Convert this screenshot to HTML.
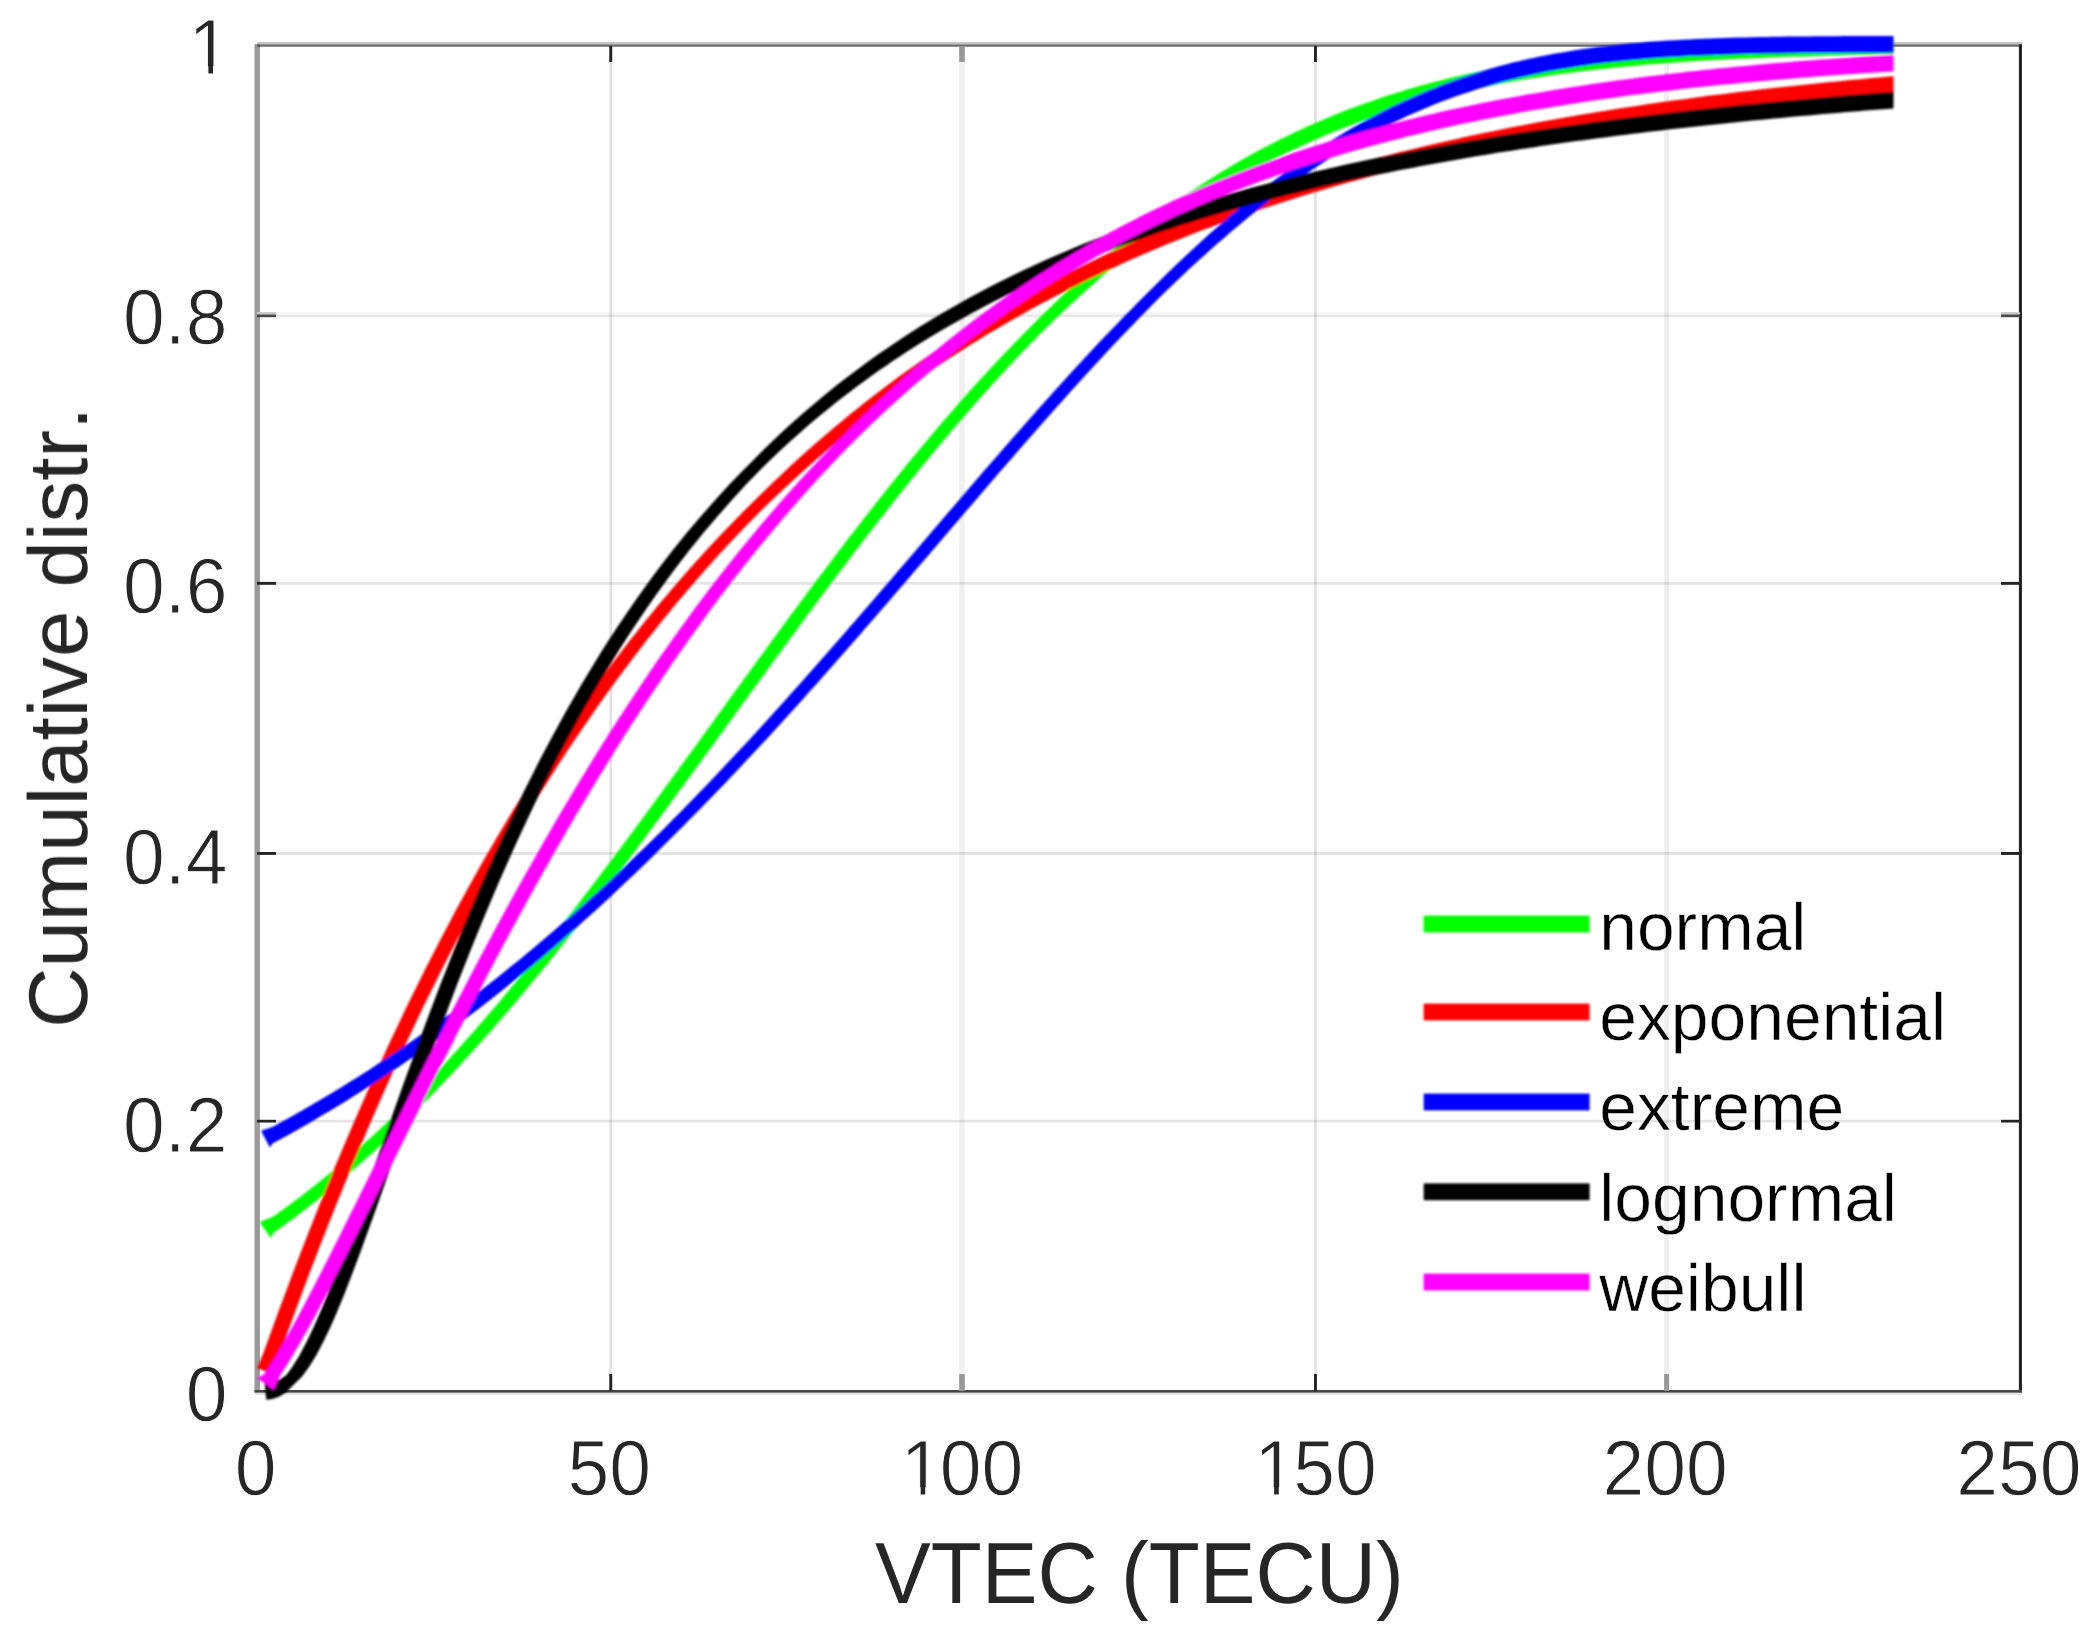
<!DOCTYPE html>
<html lang="en">
<head>
<meta charset="utf-8">
<title>Cumulative distribution of VTEC</title>
<style>
html,body{margin:0;padding:0;background:#ffffff;}
body{width:2089px;height:1646px;overflow:hidden;}
svg{display:block;}
text{font-kerning:none;white-space:pre;}
</style>
</head>
<body>
<svg width="2089" height="1646" viewBox="0 0 2089 1646" shape-rendering="geometricPrecision" text-rendering="geometricPrecision">
<rect x="0" y="0" width="2089" height="1646" fill="#ffffff"/>
<defs><filter id="b1" x="-5%" y="-5%" width="110%" height="110%"><feGaussianBlur stdDeviation="1.0"/></filter><filter id="b2" x="-5%" y="-5%" width="110%" height="110%"><feGaussianBlur stdDeviation="0.65"/></filter><filter id="b3" x="-5%" y="-5%" width="110%" height="110%"><feGaussianBlur stdDeviation="0.35"/></filter></defs>
<g filter="url(#b3)">
<rect x="609.3" y="46" width="2.9" height="1345" fill="#000" fill-opacity="0.105"/>
<rect x="959.2" y="46" width="5.6" height="1345" fill="#000" fill-opacity="0.060"/>
<rect x="1314.0" y="46" width="2.9" height="1345" fill="#000" fill-opacity="0.105"/>
<rect x="1664.1" y="46" width="5.0" height="1345" fill="#000" fill-opacity="0.065"/>
<rect x="259" y="314.5" width="1761" height="2.7" fill="#000" fill-opacity="0.090"/>
<rect x="259" y="312.1" width="1761" height="2.4" fill="#000" fill-opacity="0.035"/>
<rect x="259" y="581.9" width="1761" height="2.9" fill="#000" fill-opacity="0.100"/>
<rect x="259" y="852.0" width="1761" height="2.9" fill="#000" fill-opacity="0.110"/>
<rect x="259" y="1119.8" width="1761" height="2.7" fill="#000" fill-opacity="0.105"/>
<rect x="257" y="42.1" width="1765" height="2.3" fill="#c2c2c2"/>
<rect x="255" y="44.4" width="1767" height="2.3" fill="#6a6a6a"/>
<rect x="254.5" y="44.4" width="5.4" height="1348" fill="#999999"/>
<rect x="257.2" y="44.6" width="2.7" height="2.1" fill="#484848"/>
<rect x="2018.9" y="44.4" width="3.05" height="1348.4" fill="#222222"/>
<rect x="254.5" y="1390" width="1767.5" height="2.8" fill="#444444"/>
<rect x="254.5" y="1392.8" width="1767.5" height="2.2" fill="#e4e4e4"/>
<rect x="609.3" y="1374" width="2.9" height="17" fill="#222222"/>
<rect x="609.3" y="46" width="2.9" height="16" fill="#222222"/>
<rect x="959.2" y="1374" width="5.6" height="17" fill="#999999"/>
<rect x="959.2" y="46" width="5.6" height="16" fill="#999999"/>
<rect x="1314.0" y="1374" width="2.9" height="17" fill="#222222"/>
<rect x="1314.0" y="46" width="2.9" height="16" fill="#222222"/>
<rect x="1664.1" y="1374" width="5.0" height="17" fill="#999999"/>
<rect x="1664.1" y="46" width="5.0" height="16" fill="#999999"/>
<rect x="257" y="581.9" width="19" height="2.9" fill="#262626"/>
<rect x="2001" y="581.9" width="19" height="2.9" fill="#262626"/>
<rect x="257" y="852.0" width="19" height="2.9" fill="#262626"/>
<rect x="2001" y="852.0" width="19" height="2.9" fill="#262626"/>
<rect x="257" y="1119.8" width="19" height="2.7" fill="#262626"/>
<rect x="2001" y="1119.8" width="19" height="2.7" fill="#262626"/>
<rect x="257" y="312.1" width="19" height="2.4" fill="#c8c8c8"/>
<rect x="257" y="314.5" width="19" height="2.7" fill="#484848"/>
<rect x="2001" y="312.1" width="19" height="2.4" fill="#c8c8c8"/>
<rect x="2001" y="314.5" width="19" height="2.7" fill="#484848"/>
</g>
<g filter="url(#b1)">
<g stroke="none" fill-rule="nonzero">
<path d="M259.6,1222.0 L272.5,1217.1 L272.5,1233.8 L271.3,1238.7ZM272.5,1217.1 L279.5,1212.1 L279.5,1228.8 L272.5,1233.8ZM279.5,1212.1 L286.6,1206.9 L286.6,1223.6 L279.5,1228.8ZM286.6,1206.9 L293.6,1201.7 L293.6,1218.4 L286.6,1223.6ZM293.6,1201.7 L300.7,1196.4 L300.7,1213.1 L293.6,1218.4ZM300.7,1196.4 L307.7,1190.9 L307.7,1207.6 L300.7,1213.1ZM307.7,1190.9 L314.8,1185.4 L314.8,1202.1 L307.7,1207.6ZM314.8,1185.4 L321.8,1179.7 L321.8,1196.4 L314.8,1202.1ZM321.8,1179.7 L328.9,1174.0 L328.9,1190.7 L321.8,1196.4ZM328.9,1174.0 L335.9,1168.1 L335.9,1184.8 L328.9,1190.7ZM335.9,1168.1 L343.0,1162.2 L343.0,1178.9 L335.9,1184.8ZM343.0,1162.2 L350.0,1156.1 L350.0,1172.8 L343.0,1178.9ZM350.0,1156.1 L357.1,1149.9 L357.1,1166.6 L350.0,1172.8ZM357.1,1149.9 L364.1,1143.6 L364.1,1160.3 L357.1,1166.6ZM364.1,1143.6 L371.2,1137.2 L371.2,1153.9 L364.1,1160.3ZM371.2,1137.2 L378.2,1130.7 L378.2,1147.4 L371.2,1153.9ZM378.2,1130.7 L385.3,1124.1 L385.3,1140.8 L378.2,1147.4ZM385.3,1124.1 L392.3,1117.4 L392.3,1134.1 L385.3,1140.8ZM392.3,1117.4 L399.4,1110.6 L399.4,1127.3 L392.3,1134.1ZM399.4,1110.6 L406.4,1103.7 L406.4,1120.4 L399.4,1127.3ZM406.4,1103.7 L413.5,1096.6 L413.5,1113.3 L406.4,1120.4ZM405.1,1105.0 L412.2,1097.9 L428.9,1097.9 L421.8,1105.0ZM413.5,1096.6 L421.8,1105.0 L413.5,1113.3 L405.1,1105.0ZM412.2,1097.9 L419.2,1090.7 L435.9,1090.7 L428.9,1097.9ZM419.2,1090.7 L426.2,1083.3 L442.9,1083.3 L435.9,1090.7ZM426.2,1083.3 L433.3,1075.9 L450.0,1075.9 L442.9,1083.3ZM433.3,1075.9 L440.3,1068.4 L457.0,1068.4 L450.0,1075.9ZM440.3,1068.4 L447.4,1060.8 L464.1,1060.8 L457.0,1068.4ZM447.4,1060.8 L454.4,1053.1 L471.1,1053.1 L464.1,1060.8ZM454.4,1053.1 L461.5,1045.2 L478.2,1045.2 L471.1,1053.1ZM461.5,1045.2 L468.5,1037.3 L485.2,1037.3 L478.2,1045.2ZM468.5,1037.3 L475.6,1029.4 L492.3,1029.4 L485.2,1037.3ZM475.6,1029.4 L482.6,1021.3 L499.3,1021.3 L492.3,1029.4ZM482.6,1021.3 L489.7,1013.1 L506.4,1013.1 L499.3,1021.3ZM489.7,1013.1 L496.7,1004.9 L513.4,1004.9 L506.4,1013.1ZM496.7,1004.9 L503.8,996.5 L520.5,996.5 L513.4,1004.9ZM503.8,996.5 L510.8,988.1 L527.5,988.1 L520.5,996.5ZM510.8,988.1 L517.9,979.6 L534.6,979.6 L527.5,988.1ZM517.9,979.6 L524.9,971.0 L541.6,971.0 L534.6,979.6ZM524.9,971.0 L532.0,962.4 L548.7,962.4 L541.6,971.0ZM532.0,962.4 L539.0,953.6 L555.7,953.6 L548.7,962.4ZM539.0,953.6 L546.1,944.8 L562.8,944.8 L555.7,953.6ZM546.1,944.8 L553.1,935.9 L569.8,935.9 L562.8,944.8ZM553.1,935.9 L560.2,927.0 L576.9,927.0 L569.8,935.9ZM560.2,927.0 L567.2,918.0 L583.9,918.0 L576.9,927.0ZM567.2,918.0 L574.3,908.9 L591.0,908.9 L583.9,918.0ZM574.3,908.9 L581.3,899.8 L598.0,899.8 L591.0,908.9ZM581.3,899.8 L588.4,890.6 L605.1,890.6 L598.0,899.8ZM588.4,890.6 L595.4,881.4 L612.1,881.4 L605.1,890.6ZM595.4,881.4 L602.4,872.1 L619.1,872.1 L612.1,881.4ZM602.4,872.1 L609.5,862.8 L626.2,862.8 L619.1,872.1ZM609.5,862.8 L616.5,853.4 L633.2,853.4 L626.2,862.8ZM616.5,853.4 L623.6,843.9 L640.3,843.9 L633.2,853.4ZM623.6,843.9 L630.6,834.5 L647.3,834.5 L640.3,843.9ZM630.6,834.5 L637.7,825.0 L654.4,825.0 L647.3,834.5ZM637.7,825.0 L644.7,815.4 L661.4,815.4 L654.4,825.0ZM644.7,815.4 L651.8,805.8 L668.5,805.8 L661.4,815.4ZM651.8,805.8 L658.8,796.2 L675.5,796.2 L668.5,805.8ZM658.8,796.2 L665.9,786.6 L682.6,786.6 L675.5,796.2ZM665.9,786.6 L672.9,777.0 L689.6,777.0 L682.6,786.6ZM672.9,777.0 L680.0,767.3 L696.7,767.3 L689.6,777.0ZM680.0,767.3 L687.0,757.6 L703.7,757.6 L696.7,767.3ZM687.0,757.6 L694.1,747.9 L710.8,747.9 L703.7,757.6ZM694.1,747.9 L701.1,738.2 L717.8,738.2 L710.8,747.9ZM701.1,738.2 L708.2,728.5 L724.9,728.5 L717.8,738.2ZM708.2,728.5 L715.2,718.8 L731.9,718.8 L724.9,728.5ZM715.2,718.8 L722.3,709.1 L739.0,709.1 L731.9,718.8ZM722.3,709.1 L729.3,699.3 L746.0,699.3 L739.0,709.1ZM729.3,699.3 L736.4,689.6 L753.1,689.6 L746.0,699.3ZM736.4,689.6 L743.4,679.9 L760.1,679.9 L753.1,689.6ZM743.4,679.9 L750.5,670.2 L767.2,670.2 L760.1,679.9ZM750.5,670.2 L757.5,660.6 L774.2,660.6 L767.2,670.2ZM757.5,660.6 L764.6,650.9 L781.3,650.9 L774.2,660.6ZM764.6,650.9 L771.6,641.3 L788.3,641.3 L781.3,650.9ZM771.6,641.3 L778.6,631.7 L795.4,631.7 L788.3,641.3ZM778.6,631.7 L785.7,622.1 L802.4,622.1 L795.4,631.7ZM785.7,622.1 L792.7,612.5 L809.4,612.5 L802.4,622.1ZM792.7,612.5 L799.8,603.0 L816.5,603.0 L809.4,612.5ZM799.8,603.0 L806.8,593.6 L823.5,593.6 L816.5,603.0ZM806.8,593.6 L813.9,584.1 L830.6,584.1 L823.5,593.6ZM813.9,584.1 L820.9,574.7 L837.6,574.7 L830.6,584.1ZM820.9,574.7 L828.0,565.4 L844.7,565.4 L837.6,574.7ZM828.0,565.4 L835.0,556.1 L851.7,556.1 L844.7,565.4ZM835.0,556.1 L842.1,546.8 L858.8,546.8 L851.7,556.1ZM842.1,546.8 L849.1,537.6 L865.8,537.6 L858.8,546.8ZM849.1,537.6 L856.2,528.5 L872.9,528.5 L865.8,537.6ZM856.2,528.5 L863.2,519.4 L879.9,519.4 L872.9,528.5ZM863.2,519.4 L870.3,510.4 L887.0,510.4 L879.9,519.4ZM870.3,510.4 L877.3,501.4 L894.0,501.4 L887.0,510.4ZM877.3,501.4 L884.4,492.6 L901.1,492.6 L894.0,501.4ZM884.4,492.6 L891.4,483.7 L908.1,483.7 L901.1,492.6ZM891.4,483.7 L898.5,475.0 L915.2,475.0 L908.1,483.7ZM898.5,475.0 L905.5,466.3 L922.2,466.3 L915.2,475.0ZM905.5,466.3 L912.6,457.7 L929.3,457.7 L922.2,466.3ZM912.6,457.7 L919.6,449.2 L936.3,449.2 L929.3,457.7ZM919.6,449.2 L926.7,440.8 L943.4,440.8 L936.3,449.2ZM926.7,440.8 L933.7,432.4 L950.4,432.4 L943.4,440.8ZM933.7,432.4 L940.8,424.1 L957.5,424.1 L950.4,432.4ZM940.8,424.1 L947.8,416.0 L964.5,416.0 L957.5,424.1ZM947.8,416.0 L954.8,407.9 L971.5,407.9 L964.5,416.0ZM954.8,407.9 L961.9,399.8 L978.6,399.8 L971.5,407.9ZM961.9,399.8 L968.9,391.9 L985.6,391.9 L978.6,399.8ZM968.9,391.9 L976.0,384.1 L992.7,384.1 L985.6,391.9ZM976.0,384.1 L983.0,376.4 L999.7,376.4 L992.7,384.1ZM983.0,376.4 L990.1,368.7 L1006.8,368.7 L999.7,376.4ZM990.1,368.7 L997.1,361.2 L1013.8,361.2 L1006.8,368.7ZM997.1,361.2 L1004.2,353.7 L1020.9,353.7 L1013.8,361.2ZM1004.2,353.7 L1011.2,346.4 L1027.9,346.4 L1020.9,353.7ZM1011.2,346.4 L1018.3,339.2 L1035.0,339.2 L1027.9,346.4ZM1018.3,339.2 L1025.3,332.0 L1042.0,332.0 L1035.0,339.2ZM1033.7,323.7 L1040.7,316.6 L1040.7,333.3 L1033.7,340.4ZM1033.7,323.7 L1042.0,332.0 L1033.7,340.4 L1025.3,332.0ZM1040.7,316.6 L1047.8,309.7 L1047.8,326.4 L1040.7,333.3ZM1047.8,309.7 L1054.8,302.9 L1054.8,319.6 L1047.8,326.4ZM1054.8,302.9 L1061.9,296.1 L1061.9,312.8 L1054.8,319.6ZM1061.9,296.1 L1068.9,289.5 L1068.9,306.2 L1061.9,312.8ZM1068.9,289.5 L1076.0,283.0 L1076.0,299.7 L1068.9,306.2ZM1076.0,283.0 L1083.0,276.6 L1083.0,293.3 L1076.0,299.7ZM1083.0,276.6 L1090.1,270.2 L1090.1,286.9 L1083.0,293.3ZM1090.1,270.2 L1097.1,264.0 L1097.1,280.7 L1090.1,286.9ZM1097.1,264.0 L1104.2,257.9 L1104.2,274.6 L1097.1,280.7ZM1104.2,257.9 L1111.2,252.0 L1111.2,268.7 L1104.2,274.6ZM1111.2,252.0 L1118.3,246.1 L1118.3,262.8 L1111.2,268.7ZM1118.3,246.1 L1125.3,240.3 L1125.3,257.0 L1118.3,262.8ZM1125.3,240.3 L1132.4,234.6 L1132.4,251.3 L1125.3,257.0ZM1132.4,234.6 L1139.4,229.1 L1139.4,245.8 L1132.4,251.3ZM1139.4,229.1 L1146.4,223.6 L1146.4,240.3 L1139.4,245.8ZM1146.4,223.6 L1153.5,218.2 L1153.5,234.9 L1146.4,240.3ZM1153.5,218.2 L1160.5,213.0 L1160.5,229.7 L1153.5,234.9ZM1160.5,213.0 L1167.6,207.9 L1167.6,224.6 L1160.5,229.7ZM1167.6,207.9 L1174.6,202.8 L1174.6,219.5 L1167.6,224.6ZM1174.6,202.8 L1181.7,197.9 L1181.7,214.6 L1174.6,219.5ZM1181.7,197.9 L1188.7,193.1 L1188.7,209.8 L1181.7,214.6ZM1188.7,193.1 L1195.8,188.3 L1195.8,205.0 L1188.7,209.8ZM1195.8,188.3 L1202.8,183.7 L1202.8,200.4 L1195.8,205.0ZM1202.8,183.7 L1209.9,179.2 L1209.9,195.9 L1202.8,200.4ZM1209.9,179.2 L1216.9,174.8 L1216.9,191.5 L1209.9,195.9ZM1216.9,174.8 L1224.0,170.4 L1224.0,187.1 L1216.9,191.5ZM1224.0,170.4 L1231.0,166.2 L1231.0,182.9 L1224.0,187.1ZM1231.0,166.2 L1238.1,162.1 L1238.1,178.8 L1231.0,182.9ZM1238.1,162.1 L1245.1,158.1 L1245.1,174.8 L1238.1,178.8ZM1245.1,158.1 L1252.2,154.1 L1252.2,170.8 L1245.1,174.8ZM1252.2,154.1 L1259.2,150.3 L1259.2,167.0 L1252.2,170.8ZM1259.2,150.3 L1266.3,146.6 L1266.3,163.3 L1259.2,167.0ZM1266.3,146.6 L1273.3,142.9 L1273.3,159.6 L1266.3,163.3ZM1273.3,142.9 L1280.4,139.3 L1280.4,156.0 L1273.3,159.6ZM1280.4,139.3 L1287.4,135.9 L1287.4,152.6 L1280.4,156.0ZM1287.4,135.9 L1294.5,132.5 L1294.5,149.2 L1287.4,152.6ZM1294.5,132.5 L1301.5,129.2 L1301.5,145.9 L1294.5,149.2ZM1301.5,129.2 L1308.6,126.0 L1308.6,142.7 L1301.5,145.9ZM1308.6,126.0 L1315.6,122.9 L1315.6,139.6 L1308.6,142.7ZM1315.6,122.9 L1322.6,119.9 L1322.6,136.6 L1315.6,139.6ZM1322.6,119.9 L1329.7,116.9 L1329.7,133.6 L1322.6,136.6ZM1329.7,116.9 L1336.7,114.0 L1336.7,130.7 L1329.7,133.6ZM1336.7,114.0 L1343.8,111.3 L1343.8,128.0 L1336.7,130.7ZM1343.8,111.3 L1350.8,108.5 L1350.8,125.2 L1343.8,128.0ZM1350.8,108.5 L1357.9,105.9 L1357.9,122.6 L1350.8,125.2ZM1357.9,105.9 L1364.9,103.4 L1364.9,120.1 L1357.9,122.6ZM1364.9,103.4 L1372.0,100.9 L1372.0,117.6 L1364.9,120.1ZM1372.0,100.9 L1379.0,98.5 L1379.0,115.2 L1372.0,117.6ZM1379.0,98.5 L1386.1,96.1 L1386.1,112.8 L1379.0,115.2ZM1386.1,96.1 L1393.1,93.9 L1393.1,110.6 L1386.1,112.8ZM1393.1,93.9 L1400.2,91.7 L1400.2,108.4 L1393.1,110.6ZM1400.2,91.7 L1407.2,89.6 L1407.2,106.3 L1400.2,108.4ZM1407.2,89.6 L1414.3,87.5 L1414.3,104.2 L1407.2,106.3ZM1414.3,87.5 L1421.3,85.5 L1421.3,102.2 L1414.3,104.2ZM1421.3,85.5 L1428.4,83.6 L1428.4,100.3 L1421.3,102.2ZM1428.4,83.6 L1435.4,81.7 L1435.4,98.4 L1428.4,100.3ZM1435.4,81.7 L1442.5,79.9 L1442.5,96.6 L1435.4,98.4ZM1442.5,79.9 L1449.5,78.1 L1449.5,94.8 L1442.5,96.6ZM1449.5,78.1 L1456.6,76.4 L1456.6,93.1 L1449.5,94.8ZM1456.6,76.4 L1463.6,74.8 L1463.6,91.5 L1456.6,93.1ZM1463.6,74.8 L1470.7,73.2 L1470.7,89.9 L1463.6,91.5ZM1470.7,73.2 L1477.7,71.7 L1477.7,88.4 L1470.7,89.9ZM1477.7,71.7 L1484.8,70.2 L1484.8,86.9 L1477.7,88.4ZM1484.8,70.2 L1491.8,68.8 L1491.8,85.5 L1484.8,86.9ZM1491.8,68.8 L1498.8,67.4 L1498.8,84.1 L1491.8,85.5ZM1498.8,67.4 L1505.9,66.1 L1505.9,82.8 L1498.8,84.1ZM1505.9,66.1 L1512.9,64.8 L1512.9,81.5 L1505.9,82.8ZM1512.9,64.8 L1520.0,63.6 L1520.0,80.3 L1512.9,81.5ZM1520.0,63.6 L1527.0,62.4 L1527.0,79.1 L1520.0,80.3ZM1527.0,62.4 L1534.1,61.3 L1534.1,78.0 L1527.0,79.1ZM1534.1,61.3 L1541.1,60.2 L1541.1,76.9 L1534.1,78.0ZM1541.1,60.2 L1548.2,59.1 L1548.2,75.8 L1541.1,76.9ZM1548.2,59.1 L1555.2,58.1 L1555.2,74.8 L1548.2,75.8ZM1555.2,58.1 L1562.3,57.1 L1562.3,73.8 L1555.2,74.8ZM1562.3,57.1 L1569.3,56.2 L1569.3,72.9 L1562.3,73.8ZM1569.3,56.2 L1576.4,55.2 L1576.4,71.9 L1569.3,72.9ZM1576.4,55.2 L1583.4,54.4 L1583.4,71.1 L1576.4,71.9ZM1583.4,54.4 L1590.5,53.5 L1590.5,70.2 L1583.4,71.1ZM1590.5,53.5 L1597.5,52.7 L1597.5,69.4 L1590.5,70.2ZM1597.5,52.7 L1604.6,52.0 L1604.6,68.7 L1597.5,69.4ZM1604.6,52.0 L1611.6,51.2 L1611.6,67.9 L1604.6,68.7ZM1611.6,51.2 L1618.7,50.5 L1618.7,67.2 L1611.6,67.9ZM1618.7,50.5 L1625.7,49.8 L1625.7,66.5 L1618.7,67.2ZM1625.7,49.8 L1632.8,49.2 L1632.8,65.9 L1625.7,66.5ZM1632.8,49.2 L1639.8,48.5 L1639.8,65.2 L1632.8,65.9ZM1639.8,48.5 L1646.9,47.9 L1646.9,64.6 L1639.8,65.2ZM1646.9,47.9 L1653.9,47.3 L1653.9,64.0 L1646.9,64.6ZM1653.9,47.3 L1661.0,46.8 L1661.0,63.5 L1653.9,64.0ZM1661.0,46.8 L1668.0,46.3 L1668.0,63.0 L1661.0,63.5ZM1668.0,46.3 L1675.0,45.8 L1675.0,62.5 L1668.0,63.0ZM1675.0,45.8 L1682.1,45.3 L1682.1,62.0 L1675.0,62.5ZM1682.1,45.3 L1689.1,44.8 L1689.1,61.5 L1682.1,62.0ZM1689.1,44.8 L1696.2,44.4 L1696.2,61.1 L1689.1,61.5ZM1696.2,44.4 L1703.2,43.9 L1703.2,60.6 L1696.2,61.1ZM1703.2,43.9 L1710.3,43.5 L1710.3,60.2 L1703.2,60.6ZM1710.3,43.5 L1717.3,43.1 L1717.3,59.8 L1710.3,60.2ZM1717.3,43.1 L1724.4,42.8 L1724.4,59.5 L1717.3,59.8ZM1724.4,42.8 L1731.4,42.4 L1731.4,59.1 L1724.4,59.5ZM1731.4,42.4 L1738.5,42.1 L1738.5,58.8 L1731.4,59.1ZM1738.5,42.1 L1745.5,41.8 L1745.5,58.5 L1738.5,58.8ZM1745.5,41.8 L1752.6,41.5 L1752.6,58.2 L1745.5,58.5ZM1752.6,41.5 L1759.6,41.2 L1759.6,57.9 L1752.6,58.2ZM1759.6,41.2 L1766.7,40.9 L1766.7,57.6 L1759.6,57.9ZM1766.7,40.9 L1773.7,40.6 L1773.7,57.3 L1766.7,57.6ZM1773.7,40.6 L1780.8,40.4 L1780.8,57.1 L1773.7,57.3ZM1780.8,40.4 L1787.8,40.1 L1787.8,56.8 L1780.8,57.1ZM1787.8,40.1 L1794.9,39.9 L1794.9,56.6 L1787.8,56.8ZM1794.9,39.9 L1801.9,39.7 L1801.9,56.4 L1794.9,56.6ZM1801.9,39.7 L1809.0,39.5 L1809.0,56.2 L1801.9,56.4ZM1809.0,39.5 L1816.0,39.3 L1816.0,56.0 L1809.0,56.2ZM1816.0,39.3 L1823.1,39.1 L1823.1,55.8 L1816.0,56.0ZM1823.1,39.1 L1830.1,38.9 L1830.1,55.6 L1823.1,55.8ZM1830.1,38.9 L1837.2,38.7 L1837.2,55.4 L1830.1,55.6ZM1837.2,38.7 L1844.2,38.6 L1844.2,55.3 L1837.2,55.4ZM1844.2,38.6 L1851.2,38.4 L1851.2,55.1 L1844.2,55.3ZM1851.2,38.4 L1858.3,38.3 L1858.3,55.0 L1851.2,55.1ZM1858.3,38.3 L1865.3,38.2 L1865.3,54.9 L1858.3,55.0ZM1865.3,38.2 L1872.4,38.0 L1872.4,54.7 L1865.3,54.9ZM1872.4,38.0 L1879.4,37.9 L1879.4,54.6 L1872.4,54.7ZM1879.4,37.9 L1886.5,37.8 L1886.5,54.5 L1879.4,54.6ZM1886.5,37.8 L1893.5,37.7 L1893.5,54.4 L1886.5,54.5Z" fill="#00ff00"/>
<path d="M257.1,1368.2 L264.1,1351.3 L280.8,1351.3 L273.8,1374.1ZM264.1,1351.3 L271.2,1331.6 L287.9,1331.6 L280.8,1351.3ZM271.2,1331.6 L278.2,1312.3 L294.9,1312.3 L287.9,1331.6ZM278.2,1312.3 L285.3,1293.3 L302.0,1293.3 L294.9,1312.3ZM285.3,1293.3 L292.3,1274.5 L309.0,1274.5 L302.0,1293.3ZM292.3,1274.5 L299.4,1256.1 L316.1,1256.1 L309.0,1274.5ZM299.4,1256.1 L306.4,1237.9 L323.1,1237.9 L316.1,1256.1ZM306.4,1237.9 L313.5,1220.0 L330.2,1220.0 L323.1,1237.9ZM313.5,1220.0 L320.5,1202.3 L337.2,1202.3 L330.2,1220.0ZM320.5,1202.3 L327.6,1185.0 L344.3,1185.0 L337.2,1202.3ZM327.6,1185.0 L334.6,1167.8 L351.3,1167.8 L344.3,1185.0ZM334.6,1167.8 L341.7,1151.0 L358.4,1151.0 L351.3,1167.8ZM341.7,1151.0 L348.7,1134.4 L365.4,1134.4 L358.4,1151.0ZM348.7,1134.4 L355.8,1118.0 L372.5,1118.0 L365.4,1134.4ZM355.8,1118.0 L362.8,1101.9 L379.5,1101.9 L372.5,1118.0ZM362.8,1101.9 L369.9,1086.0 L386.6,1086.0 L379.5,1101.9ZM369.9,1086.0 L376.9,1070.4 L393.6,1070.4 L386.6,1086.0ZM376.9,1070.4 L384.0,1055.0 L400.7,1055.0 L393.6,1070.4ZM384.0,1055.0 L391.0,1039.8 L407.7,1039.8 L400.7,1055.0ZM391.0,1039.8 L398.1,1024.9 L414.8,1024.9 L407.7,1039.8ZM398.1,1024.9 L405.1,1010.1 L421.8,1010.1 L414.8,1024.9ZM405.1,1010.1 L412.2,995.6 L428.9,995.6 L421.8,1010.1ZM412.2,995.6 L419.2,981.4 L435.9,981.4 L428.9,995.6ZM419.2,981.4 L426.2,967.3 L442.9,967.3 L435.9,981.4ZM426.2,967.3 L433.3,953.4 L450.0,953.4 L442.9,967.3ZM433.3,953.4 L440.3,939.8 L457.0,939.8 L450.0,953.4ZM440.3,939.8 L447.4,926.4 L464.1,926.4 L457.0,939.8ZM447.4,926.4 L454.4,913.1 L471.1,913.1 L464.1,926.4ZM454.4,913.1 L461.5,900.1 L478.2,900.1 L471.1,913.1ZM461.5,900.1 L468.5,887.2 L485.2,887.2 L478.2,900.1ZM468.5,887.2 L475.6,874.6 L492.3,874.6 L485.2,887.2ZM475.6,874.6 L482.6,862.1 L499.3,862.1 L492.3,874.6ZM482.6,862.1 L489.7,849.8 L506.4,849.8 L499.3,862.1ZM489.7,849.8 L496.7,837.8 L513.4,837.8 L506.4,849.8ZM496.7,837.8 L503.8,825.8 L520.5,825.8 L513.4,837.8ZM503.8,825.8 L510.8,814.1 L527.5,814.1 L520.5,825.8ZM510.8,814.1 L517.9,802.6 L534.6,802.6 L527.5,814.1ZM517.9,802.6 L524.9,791.2 L541.6,791.2 L534.6,802.6ZM524.9,791.2 L532.0,780.0 L548.7,780.0 L541.6,791.2ZM532.0,780.0 L539.0,768.9 L555.7,768.9 L548.7,780.0ZM539.0,768.9 L546.1,758.0 L562.8,758.0 L555.7,768.9ZM546.1,758.0 L553.1,747.3 L569.8,747.3 L562.8,758.0ZM553.1,747.3 L560.2,736.8 L576.9,736.8 L569.8,747.3ZM560.2,736.8 L567.2,726.4 L583.9,726.4 L576.9,736.8ZM567.2,726.4 L574.3,716.2 L591.0,716.2 L583.9,726.4ZM574.3,716.2 L581.3,706.1 L598.0,706.1 L591.0,716.2ZM581.3,706.1 L588.4,696.1 L605.1,696.1 L598.0,706.1ZM588.4,696.1 L595.4,686.3 L612.1,686.3 L605.1,696.1ZM595.4,686.3 L602.4,676.7 L619.1,676.7 L612.1,686.3ZM602.4,676.7 L609.5,667.2 L626.2,667.2 L619.1,676.7ZM609.5,667.2 L616.5,657.9 L633.2,657.9 L626.2,667.2ZM616.5,657.9 L623.6,648.7 L640.3,648.7 L633.2,657.9ZM623.6,648.7 L630.6,639.6 L647.3,639.6 L640.3,648.7ZM630.6,639.6 L637.7,630.7 L654.4,630.7 L647.3,639.6ZM637.7,630.7 L644.7,621.8 L661.4,621.8 L654.4,630.7ZM644.7,621.8 L651.8,613.2 L668.5,613.2 L661.4,621.8ZM651.8,613.2 L658.8,604.6 L675.5,604.6 L668.5,613.2ZM658.8,604.6 L665.9,596.2 L682.6,596.2 L675.5,604.6ZM665.9,596.2 L672.9,587.9 L689.6,587.9 L682.6,596.2ZM672.9,587.9 L680.0,579.8 L696.7,579.8 L689.6,587.9ZM680.0,579.8 L687.0,571.7 L703.7,571.7 L696.7,579.8ZM687.0,571.7 L694.1,563.8 L710.8,563.8 L703.7,571.7ZM694.1,563.8 L701.1,556.0 L717.8,556.0 L710.8,563.8ZM701.1,556.0 L708.2,548.3 L724.9,548.3 L717.8,556.0ZM708.2,548.3 L715.2,540.8 L731.9,540.8 L724.9,548.3ZM715.2,540.8 L722.3,533.3 L739.0,533.3 L731.9,540.8ZM722.3,533.3 L729.3,526.0 L746.0,526.0 L739.0,533.3ZM729.3,526.0 L736.4,518.8 L753.1,518.8 L746.0,526.0ZM736.4,518.8 L743.4,511.6 L760.1,511.6 L753.1,518.8ZM751.8,503.3 L758.8,496.3 L758.8,513.0 L751.8,520.0ZM751.8,503.3 L760.1,511.6 L751.8,520.0 L743.4,511.6ZM758.8,496.3 L765.9,489.4 L765.9,506.1 L758.8,513.0ZM765.9,489.4 L772.9,482.6 L772.9,499.3 L765.9,506.1ZM772.9,482.6 L780.0,475.9 L780.0,492.6 L772.9,499.3ZM780.0,475.9 L787.0,469.2 L787.0,485.9 L780.0,492.6ZM787.0,469.2 L794.0,462.7 L794.0,479.4 L787.0,485.9ZM794.0,462.7 L801.1,456.3 L801.1,473.0 L794.0,479.4ZM801.1,456.3 L808.1,450.0 L808.1,466.7 L801.1,473.0ZM808.1,450.0 L815.2,443.8 L815.2,460.5 L808.1,466.7ZM815.2,443.8 L822.2,437.7 L822.2,454.4 L815.2,460.5ZM822.2,437.7 L829.3,431.7 L829.3,448.4 L822.2,454.4ZM829.3,431.7 L836.3,425.7 L836.3,442.4 L829.3,448.4ZM836.3,425.7 L843.4,419.9 L843.4,436.6 L836.3,442.4ZM843.4,419.9 L850.4,414.1 L850.4,430.8 L843.4,436.6ZM850.4,414.1 L857.5,408.4 L857.5,425.1 L850.4,430.8ZM857.5,408.4 L864.5,402.8 L864.5,419.5 L857.5,425.1ZM864.5,402.8 L871.6,397.3 L871.6,414.0 L864.5,419.5ZM871.6,397.3 L878.6,391.9 L878.6,408.6 L871.6,414.0ZM878.6,391.9 L885.7,386.6 L885.7,403.3 L878.6,408.6ZM885.7,386.6 L892.7,381.3 L892.7,398.0 L885.7,403.3ZM892.7,381.3 L899.8,376.1 L899.8,392.8 L892.7,398.0ZM899.8,376.1 L906.8,371.0 L906.8,387.7 L899.8,392.8ZM906.8,371.0 L913.9,366.0 L913.9,382.7 L906.8,387.7ZM913.9,366.0 L920.9,361.0 L920.9,377.7 L913.9,382.7ZM920.9,361.0 L928.0,356.1 L928.0,372.8 L920.9,377.7ZM928.0,356.1 L935.0,351.3 L935.0,368.0 L928.0,372.8ZM935.0,351.3 L942.1,346.6 L942.1,363.3 L935.0,368.0ZM942.1,346.6 L949.1,341.9 L949.1,358.6 L942.1,363.3ZM949.1,341.9 L956.2,337.3 L956.2,354.0 L949.1,358.6ZM956.2,337.3 L963.2,332.8 L963.2,349.5 L956.2,354.0ZM963.2,332.8 L970.2,328.4 L970.2,345.1 L963.2,349.5ZM970.2,328.4 L977.3,324.0 L977.3,340.7 L970.2,345.1ZM977.3,324.0 L984.3,319.6 L984.3,336.3 L977.3,340.7ZM984.3,319.6 L991.4,315.4 L991.4,332.1 L984.3,336.3ZM991.4,315.4 L998.4,311.2 L998.4,327.9 L991.4,332.1ZM998.4,311.2 L1005.5,307.1 L1005.5,323.8 L998.4,327.9ZM1005.5,307.1 L1012.5,303.0 L1012.5,319.7 L1005.5,323.8ZM1012.5,303.0 L1019.6,299.0 L1019.6,315.7 L1012.5,319.7ZM1019.6,299.0 L1026.6,295.0 L1026.6,311.7 L1019.6,315.7ZM1026.6,295.0 L1033.7,291.1 L1033.7,307.8 L1026.6,311.7ZM1033.7,291.1 L1040.7,287.3 L1040.7,304.0 L1033.7,307.8ZM1040.7,287.3 L1047.8,283.5 L1047.8,300.2 L1040.7,304.0ZM1047.8,283.5 L1054.8,279.8 L1054.8,296.5 L1047.8,300.2ZM1054.8,279.8 L1061.9,276.2 L1061.9,292.9 L1054.8,296.5ZM1061.9,276.2 L1068.9,272.5 L1068.9,289.2 L1061.9,292.9ZM1068.9,272.5 L1076.0,269.0 L1076.0,285.7 L1068.9,289.2ZM1076.0,269.0 L1083.0,265.5 L1083.0,282.2 L1076.0,285.7ZM1083.0,265.5 L1090.1,262.0 L1090.1,278.7 L1083.0,282.2ZM1090.1,262.0 L1097.1,258.7 L1097.1,275.4 L1090.1,278.7ZM1097.1,258.7 L1104.2,255.3 L1104.2,272.0 L1097.1,275.4ZM1104.2,255.3 L1111.2,252.0 L1111.2,268.7 L1104.2,272.0ZM1111.2,252.0 L1118.3,248.8 L1118.3,265.5 L1111.2,268.7ZM1118.3,248.8 L1125.3,245.6 L1125.3,262.3 L1118.3,265.5ZM1125.3,245.6 L1132.4,242.4 L1132.4,259.1 L1125.3,262.3ZM1132.4,242.4 L1139.4,239.3 L1139.4,256.0 L1132.4,259.1ZM1139.4,239.3 L1146.4,236.3 L1146.4,253.0 L1139.4,256.0ZM1146.4,236.3 L1153.5,233.3 L1153.5,250.0 L1146.4,253.0ZM1153.5,233.3 L1160.5,230.3 L1160.5,247.0 L1153.5,250.0ZM1160.5,230.3 L1167.6,227.4 L1167.6,244.1 L1160.5,247.0ZM1167.6,227.4 L1174.6,224.5 L1174.6,241.2 L1167.6,244.1ZM1174.6,224.5 L1181.7,221.7 L1181.7,238.4 L1174.6,241.2ZM1181.7,221.7 L1188.7,218.9 L1188.7,235.6 L1181.7,238.4ZM1188.7,218.9 L1195.8,216.1 L1195.8,232.8 L1188.7,235.6ZM1195.8,216.1 L1202.8,213.4 L1202.8,230.1 L1195.8,232.8ZM1202.8,213.4 L1209.9,210.8 L1209.9,227.5 L1202.8,230.1ZM1209.9,210.8 L1216.9,208.1 L1216.9,224.8 L1209.9,227.5ZM1216.9,208.1 L1224.0,205.6 L1224.0,222.3 L1216.9,224.8ZM1224.0,205.6 L1231.0,203.0 L1231.0,219.7 L1224.0,222.3ZM1231.0,203.0 L1238.1,200.5 L1238.1,217.2 L1231.0,219.7ZM1238.1,200.5 L1245.1,198.0 L1245.1,214.7 L1238.1,217.2ZM1245.1,198.0 L1252.2,195.6 L1252.2,212.3 L1245.1,214.7ZM1252.2,195.6 L1259.2,193.2 L1259.2,209.9 L1252.2,212.3ZM1259.2,193.2 L1266.3,190.8 L1266.3,207.5 L1259.2,209.9ZM1266.3,190.8 L1273.3,188.5 L1273.3,205.2 L1266.3,207.5ZM1273.3,188.5 L1280.4,186.2 L1280.4,202.9 L1273.3,205.2ZM1280.4,186.2 L1287.4,184.0 L1287.4,200.7 L1280.4,202.9ZM1287.4,184.0 L1294.5,181.7 L1294.5,198.4 L1287.4,200.7ZM1294.5,181.7 L1301.5,179.6 L1301.5,196.3 L1294.5,198.4ZM1301.5,179.6 L1308.6,177.4 L1308.6,194.1 L1301.5,196.3ZM1308.6,177.4 L1315.6,175.3 L1315.6,192.0 L1308.6,194.1ZM1315.6,175.3 L1322.6,173.2 L1322.6,189.9 L1315.6,192.0ZM1322.6,173.2 L1329.7,171.1 L1329.7,187.8 L1322.6,189.9ZM1329.7,171.1 L1336.7,169.1 L1336.7,185.8 L1329.7,187.8ZM1336.7,169.1 L1343.8,167.1 L1343.8,183.8 L1336.7,185.8ZM1343.8,167.1 L1350.8,165.1 L1350.8,181.8 L1343.8,183.8ZM1350.8,165.1 L1357.9,163.2 L1357.9,179.9 L1350.8,181.8ZM1357.9,163.2 L1364.9,161.3 L1364.9,178.0 L1357.9,179.9ZM1364.9,161.3 L1372.0,159.4 L1372.0,176.1 L1364.9,178.0ZM1372.0,159.4 L1379.0,157.5 L1379.0,174.2 L1372.0,176.1ZM1379.0,157.5 L1386.1,155.7 L1386.1,172.4 L1379.0,174.2ZM1386.1,155.7 L1393.1,153.9 L1393.1,170.6 L1386.1,172.4ZM1393.1,153.9 L1400.2,152.1 L1400.2,168.8 L1393.1,170.6ZM1400.2,152.1 L1407.2,150.4 L1407.2,167.1 L1400.2,168.8ZM1407.2,150.4 L1414.3,148.7 L1414.3,165.4 L1407.2,167.1ZM1414.3,148.7 L1421.3,147.0 L1421.3,163.7 L1414.3,165.4ZM1421.3,147.0 L1428.4,145.3 L1428.4,162.0 L1421.3,163.7ZM1428.4,145.3 L1435.4,143.7 L1435.4,160.4 L1428.4,162.0ZM1435.4,143.7 L1442.5,142.1 L1442.5,158.8 L1435.4,160.4ZM1442.5,142.1 L1449.5,140.5 L1449.5,157.2 L1442.5,158.8ZM1449.5,140.5 L1456.6,138.9 L1456.6,155.6 L1449.5,157.2ZM1456.6,138.9 L1463.6,137.3 L1463.6,154.0 L1456.6,155.6ZM1463.6,137.3 L1470.7,135.8 L1470.7,152.5 L1463.6,154.0ZM1470.7,135.8 L1477.7,134.3 L1477.7,151.0 L1470.7,152.5ZM1477.7,134.3 L1484.8,132.8 L1484.8,149.5 L1477.7,151.0ZM1484.8,132.8 L1491.8,131.4 L1491.8,148.1 L1484.8,149.5ZM1491.8,131.4 L1498.8,130.0 L1498.8,146.7 L1491.8,148.1ZM1498.8,130.0 L1505.9,128.5 L1505.9,145.2 L1498.8,146.7ZM1505.9,128.5 L1512.9,127.1 L1512.9,143.8 L1505.9,145.2ZM1512.9,127.1 L1520.0,125.8 L1520.0,142.5 L1512.9,143.8ZM1520.0,125.8 L1527.0,124.4 L1527.0,141.1 L1520.0,142.5ZM1527.0,124.4 L1534.1,123.1 L1534.1,139.8 L1527.0,141.1ZM1534.1,123.1 L1541.1,121.8 L1541.1,138.5 L1534.1,139.8ZM1541.1,121.8 L1548.2,120.5 L1548.2,137.2 L1541.1,138.5ZM1548.2,120.5 L1555.2,119.2 L1555.2,135.9 L1548.2,137.2ZM1555.2,119.2 L1562.3,118.0 L1562.3,134.7 L1555.2,135.9ZM1562.3,118.0 L1569.3,116.7 L1569.3,133.4 L1562.3,134.7ZM1569.3,116.7 L1576.4,115.5 L1576.4,132.2 L1569.3,133.4ZM1576.4,115.5 L1583.4,114.3 L1583.4,131.0 L1576.4,132.2ZM1583.4,114.3 L1590.5,113.2 L1590.5,129.9 L1583.4,131.0ZM1590.5,113.2 L1597.5,112.0 L1597.5,128.7 L1590.5,129.9ZM1597.5,112.0 L1604.6,110.9 L1604.6,127.6 L1597.5,128.7ZM1604.6,110.9 L1611.6,109.7 L1611.6,126.4 L1604.6,127.6ZM1611.6,109.7 L1618.7,108.6 L1618.7,125.3 L1611.6,126.4ZM1618.7,108.6 L1625.7,107.5 L1625.7,124.2 L1618.7,125.3ZM1625.7,107.5 L1632.8,106.5 L1632.8,123.2 L1625.7,124.2ZM1632.8,106.5 L1639.8,105.4 L1639.8,122.1 L1632.8,123.2ZM1639.8,105.4 L1646.9,104.3 L1646.9,121.0 L1639.8,122.1ZM1646.9,104.3 L1653.9,103.3 L1653.9,120.0 L1646.9,121.0ZM1653.9,103.3 L1661.0,102.3 L1661.0,119.0 L1653.9,120.0ZM1661.0,102.3 L1668.0,101.3 L1668.0,118.0 L1661.0,119.0ZM1668.0,101.3 L1675.0,100.3 L1675.0,117.0 L1668.0,118.0ZM1675.0,100.3 L1682.1,99.4 L1682.1,116.1 L1675.0,117.0ZM1682.1,99.4 L1689.1,98.4 L1689.1,115.1 L1682.1,116.1ZM1689.1,98.4 L1696.2,97.5 L1696.2,114.2 L1689.1,115.1ZM1696.2,97.5 L1703.2,96.5 L1703.2,113.2 L1696.2,114.2ZM1703.2,96.5 L1710.3,95.6 L1710.3,112.3 L1703.2,113.2ZM1710.3,95.6 L1717.3,94.7 L1717.3,111.4 L1710.3,112.3ZM1717.3,94.7 L1724.4,93.9 L1724.4,110.6 L1717.3,111.4ZM1724.4,93.9 L1731.4,93.0 L1731.4,109.7 L1724.4,110.6ZM1731.4,93.0 L1738.5,92.1 L1738.5,108.8 L1731.4,109.7ZM1738.5,92.1 L1745.5,91.3 L1745.5,108.0 L1738.5,108.8ZM1745.5,91.3 L1752.6,90.4 L1752.6,107.1 L1745.5,108.0ZM1752.6,90.4 L1759.6,89.6 L1759.6,106.3 L1752.6,107.1ZM1759.6,89.6 L1766.7,88.8 L1766.7,105.5 L1759.6,106.3ZM1766.7,88.8 L1773.7,88.0 L1773.7,104.7 L1766.7,105.5ZM1773.7,88.0 L1780.8,87.2 L1780.8,103.9 L1773.7,104.7ZM1780.8,87.2 L1787.8,86.5 L1787.8,103.2 L1780.8,103.9ZM1787.8,86.5 L1794.9,85.7 L1794.9,102.4 L1787.8,103.2ZM1794.9,85.7 L1801.9,85.0 L1801.9,101.7 L1794.9,102.4ZM1801.9,85.0 L1809.0,84.2 L1809.0,100.9 L1801.9,101.7ZM1809.0,84.2 L1816.0,83.5 L1816.0,100.2 L1809.0,100.9ZM1816.0,83.5 L1823.1,82.8 L1823.1,99.5 L1816.0,100.2ZM1823.1,82.8 L1830.1,82.1 L1830.1,98.8 L1823.1,99.5ZM1830.1,82.1 L1837.2,81.4 L1837.2,98.1 L1830.1,98.8ZM1837.2,81.4 L1844.2,80.7 L1844.2,97.4 L1837.2,98.1ZM1844.2,80.7 L1851.2,80.0 L1851.2,96.7 L1844.2,97.4ZM1851.2,80.0 L1858.3,79.4 L1858.3,96.1 L1851.2,96.7ZM1858.3,79.4 L1865.3,78.7 L1865.3,95.4 L1858.3,96.1ZM1865.3,78.7 L1872.4,78.1 L1872.4,94.8 L1865.3,95.4ZM1872.4,78.1 L1879.4,77.4 L1879.4,94.1 L1872.4,94.8ZM1879.4,77.4 L1886.5,76.8 L1886.5,93.5 L1879.4,94.1ZM1886.5,76.8 L1893.5,76.2 L1893.5,92.9 L1886.5,93.5Z" fill="#ff0000"/>
<path d="M261.0,1130.7 L272.5,1126.9 L272.5,1143.6 L269.9,1147.4ZM272.5,1126.9 L279.5,1123.1 L279.5,1139.8 L272.5,1143.6ZM279.5,1123.1 L286.6,1119.2 L286.6,1135.9 L279.5,1139.8ZM286.6,1119.2 L293.6,1115.2 L293.6,1131.9 L286.6,1135.9ZM293.6,1115.2 L300.7,1111.2 L300.7,1127.9 L293.6,1131.9ZM300.7,1111.2 L307.7,1107.2 L307.7,1123.9 L300.7,1127.9ZM307.7,1107.2 L314.8,1103.1 L314.8,1119.8 L307.7,1123.9ZM314.8,1103.1 L321.8,1098.9 L321.8,1115.6 L314.8,1119.8ZM321.8,1098.9 L328.9,1094.7 L328.9,1111.4 L321.8,1115.6ZM328.9,1094.7 L335.9,1090.5 L335.9,1107.2 L328.9,1111.4ZM335.9,1090.5 L343.0,1086.2 L343.0,1102.9 L335.9,1107.2ZM343.0,1086.2 L350.0,1081.8 L350.0,1098.5 L343.0,1102.9ZM350.0,1081.8 L357.1,1077.4 L357.1,1094.1 L350.0,1098.5ZM357.1,1077.4 L364.1,1072.9 L364.1,1089.6 L357.1,1094.1ZM364.1,1072.9 L371.2,1068.4 L371.2,1085.1 L364.1,1089.6ZM371.2,1068.4 L378.2,1063.8 L378.2,1080.5 L371.2,1085.1ZM378.2,1063.8 L385.3,1059.1 L385.3,1075.8 L378.2,1080.5ZM385.3,1059.1 L392.3,1054.4 L392.3,1071.1 L385.3,1075.8ZM392.3,1054.4 L399.4,1049.7 L399.4,1066.4 L392.3,1071.1ZM399.4,1049.7 L406.4,1044.8 L406.4,1061.5 L399.4,1066.4ZM406.4,1044.8 L413.5,1040.0 L413.5,1056.7 L406.4,1061.5ZM413.5,1040.0 L420.5,1035.0 L420.5,1051.7 L413.5,1056.7ZM420.5,1035.0 L427.6,1030.1 L427.6,1046.8 L420.5,1051.7ZM427.6,1030.1 L434.6,1025.0 L434.6,1041.7 L427.6,1046.8ZM434.6,1025.0 L441.6,1019.9 L441.6,1036.6 L434.6,1041.7ZM441.6,1019.9 L448.7,1014.8 L448.7,1031.5 L441.6,1036.6ZM448.7,1014.8 L455.7,1009.5 L455.7,1026.2 L448.7,1031.5ZM455.7,1009.5 L462.8,1004.3 L462.8,1021.0 L455.7,1026.2ZM462.8,1004.3 L469.8,998.9 L469.8,1015.6 L462.8,1021.0ZM469.8,998.9 L476.9,993.5 L476.9,1010.2 L469.8,1015.6ZM476.9,993.5 L483.9,988.1 L483.9,1004.8 L476.9,1010.2ZM483.9,988.1 L491.0,982.5 L491.0,999.2 L483.9,1004.8ZM491.0,982.5 L498.0,977.0 L498.0,993.7 L491.0,999.2ZM498.0,977.0 L505.1,971.3 L505.1,988.0 L498.0,993.7ZM505.1,971.3 L512.1,965.6 L512.1,982.3 L505.1,988.0ZM512.1,965.6 L519.2,959.9 L519.2,976.6 L512.1,982.3ZM519.2,959.9 L526.2,954.1 L526.2,970.8 L519.2,976.6ZM526.2,954.1 L533.3,948.2 L533.3,964.9 L526.2,970.8ZM533.3,948.2 L540.3,942.3 L540.3,959.0 L533.3,964.9ZM540.3,942.3 L547.4,936.3 L547.4,953.0 L540.3,959.0ZM547.4,936.3 L554.4,930.2 L554.4,946.9 L547.4,953.0ZM554.4,930.2 L561.5,924.1 L561.5,940.8 L554.4,946.9ZM561.5,924.1 L568.5,917.9 L568.5,934.6 L561.5,940.8ZM568.5,917.9 L575.6,911.7 L575.6,928.4 L568.5,934.6ZM575.6,911.7 L582.6,905.4 L582.6,922.1 L575.6,928.4ZM582.6,905.4 L589.7,899.1 L589.7,915.8 L582.6,922.1ZM589.7,899.1 L596.7,892.7 L596.7,909.4 L589.7,915.8ZM596.7,892.7 L603.8,886.2 L603.8,902.9 L596.7,909.4ZM603.8,886.2 L610.8,879.7 L610.8,896.4 L603.8,902.9ZM610.8,879.7 L617.8,873.1 L617.8,889.8 L610.8,896.4ZM617.8,873.1 L624.9,866.4 L624.9,883.1 L617.8,889.8ZM624.9,866.4 L631.9,859.7 L631.9,876.4 L624.9,883.1ZM631.9,859.7 L639.0,853.0 L639.0,869.7 L631.9,876.4ZM639.0,853.0 L646.0,846.2 L646.0,862.9 L639.0,869.7ZM646.0,846.2 L653.1,839.3 L653.1,856.0 L646.0,862.9ZM653.1,839.3 L660.1,832.4 L660.1,849.1 L653.1,856.0ZM660.1,832.4 L667.2,825.4 L667.2,842.1 L660.1,849.1ZM667.2,825.4 L674.2,818.4 L674.2,835.1 L667.2,842.1ZM665.9,826.7 L672.9,819.6 L689.6,819.6 L682.6,826.7ZM674.2,818.4 L682.6,826.7 L674.2,835.1 L665.9,826.7ZM672.9,819.6 L680.0,812.5 L696.7,812.5 L689.6,819.6ZM680.0,812.5 L687.0,805.3 L703.7,805.3 L696.7,812.5ZM687.0,805.3 L694.1,798.1 L710.8,798.1 L703.7,805.3ZM694.1,798.1 L701.1,790.8 L717.8,790.8 L710.8,798.1ZM701.1,790.8 L708.2,783.4 L724.9,783.4 L717.8,790.8ZM708.2,783.4 L715.2,776.0 L731.9,776.0 L724.9,783.4ZM715.2,776.0 L722.3,768.6 L739.0,768.6 L731.9,776.0ZM722.3,768.6 L729.3,761.1 L746.0,761.1 L739.0,768.6ZM729.3,761.1 L736.4,753.6 L753.1,753.6 L746.0,761.1ZM736.4,753.6 L743.4,746.0 L760.1,746.0 L753.1,753.6ZM743.4,746.0 L750.5,738.4 L767.2,738.4 L760.1,746.0ZM750.5,738.4 L757.5,730.7 L774.2,730.7 L767.2,738.4ZM757.5,730.7 L764.6,723.0 L781.3,723.0 L774.2,730.7ZM764.6,723.0 L771.6,715.3 L788.3,715.3 L781.3,723.0ZM771.6,715.3 L778.6,707.5 L795.4,707.5 L788.3,715.3ZM778.6,707.5 L785.7,699.7 L802.4,699.7 L795.4,707.5ZM785.7,699.7 L792.7,691.8 L809.4,691.8 L802.4,699.7ZM792.7,691.8 L799.8,683.9 L816.5,683.9 L809.4,691.8ZM799.8,683.9 L806.8,676.0 L823.5,676.0 L816.5,683.9ZM806.8,676.0 L813.9,668.0 L830.6,668.0 L823.5,676.0ZM813.9,668.0 L820.9,660.0 L837.6,660.0 L830.6,668.0ZM820.9,660.0 L828.0,652.0 L844.7,652.0 L837.6,660.0ZM828.0,652.0 L835.0,644.0 L851.7,644.0 L844.7,652.0ZM835.0,644.0 L842.1,635.9 L858.8,635.9 L851.7,644.0ZM842.1,635.9 L849.1,627.8 L865.8,627.8 L858.8,635.9ZM849.1,627.8 L856.2,619.7 L872.9,619.7 L865.8,627.8ZM856.2,619.7 L863.2,611.6 L879.9,611.6 L872.9,619.7ZM863.2,611.6 L870.3,603.4 L887.0,603.4 L879.9,611.6ZM870.3,603.4 L877.3,595.2 L894.0,595.2 L887.0,603.4ZM877.3,595.2 L884.4,587.1 L901.1,587.1 L894.0,595.2ZM884.4,587.1 L891.4,578.9 L908.1,578.9 L901.1,587.1ZM891.4,578.9 L898.5,570.6 L915.2,570.6 L908.1,578.9ZM898.5,570.6 L905.5,562.4 L922.2,562.4 L915.2,570.6ZM905.5,562.4 L912.6,554.2 L929.3,554.2 L922.2,562.4ZM912.6,554.2 L919.6,546.0 L936.3,546.0 L929.3,554.2ZM919.6,546.0 L926.7,537.8 L943.4,537.8 L936.3,546.0ZM926.7,537.8 L933.7,529.5 L950.4,529.5 L943.4,537.8ZM933.7,529.5 L940.8,521.3 L957.5,521.3 L950.4,529.5ZM940.8,521.3 L947.8,513.1 L964.5,513.1 L957.5,521.3ZM947.8,513.1 L954.8,504.9 L971.5,504.9 L964.5,513.1ZM954.8,504.9 L961.9,496.7 L978.6,496.7 L971.5,504.9ZM961.9,496.7 L968.9,488.5 L985.6,488.5 L978.6,496.7ZM968.9,488.5 L976.0,480.3 L992.7,480.3 L985.6,488.5ZM976.0,480.3 L983.0,472.1 L999.7,472.1 L992.7,480.3ZM983.0,472.1 L990.1,464.0 L1006.8,464.0 L999.7,472.1ZM990.1,464.0 L997.1,455.9 L1013.8,455.9 L1006.8,464.0ZM997.1,455.9 L1004.2,447.8 L1020.9,447.8 L1013.8,455.9ZM1004.2,447.8 L1011.2,439.7 L1027.9,439.7 L1020.9,447.8ZM1011.2,439.7 L1018.3,431.7 L1035.0,431.7 L1027.9,439.7ZM1018.3,431.7 L1025.3,423.7 L1042.0,423.7 L1035.0,431.7ZM1025.3,423.7 L1032.4,415.7 L1049.1,415.7 L1042.0,423.7ZM1032.4,415.7 L1039.4,407.8 L1056.1,407.8 L1049.1,415.7ZM1039.4,407.8 L1046.5,399.9 L1063.2,399.9 L1056.1,407.8ZM1046.5,399.9 L1053.5,392.1 L1070.2,392.1 L1063.2,399.9ZM1053.5,392.1 L1060.6,384.3 L1077.3,384.3 L1070.2,392.1ZM1060.6,384.3 L1067.6,376.5 L1084.3,376.5 L1077.3,384.3ZM1067.6,376.5 L1074.7,368.8 L1091.4,368.8 L1084.3,376.5ZM1074.7,368.8 L1081.7,361.2 L1098.4,361.2 L1091.4,368.8ZM1081.7,361.2 L1088.8,353.6 L1105.5,353.6 L1098.4,361.2ZM1088.8,353.6 L1095.8,346.1 L1112.5,346.1 L1105.5,353.6ZM1095.8,346.1 L1102.9,338.6 L1119.6,338.6 L1112.5,346.1ZM1102.9,338.6 L1109.9,331.2 L1126.6,331.2 L1119.6,338.6ZM1109.9,331.2 L1117.0,323.9 L1133.7,323.9 L1126.6,331.2ZM1117.0,323.9 L1124.0,316.6 L1140.7,316.6 L1133.7,323.9ZM1124.0,316.6 L1131.1,309.4 L1147.8,309.4 L1140.7,316.6ZM1131.1,309.4 L1138.1,302.3 L1154.8,302.3 L1147.8,309.4ZM1146.4,294.0 L1153.5,286.9 L1153.5,303.6 L1146.4,310.7ZM1146.4,294.0 L1154.8,302.3 L1146.4,310.7 L1138.1,302.3ZM1153.5,286.9 L1160.5,279.9 L1160.5,296.6 L1153.5,303.6ZM1160.5,279.9 L1167.6,273.1 L1167.6,289.8 L1160.5,296.6ZM1167.6,273.1 L1174.6,266.3 L1174.6,283.0 L1167.6,289.8ZM1174.6,266.3 L1181.7,259.6 L1181.7,276.3 L1174.6,283.0ZM1181.7,259.6 L1188.7,252.9 L1188.7,269.6 L1181.7,276.3ZM1188.7,252.9 L1195.8,246.4 L1195.8,263.1 L1188.7,269.6ZM1195.8,246.4 L1202.8,240.0 L1202.8,256.7 L1195.8,263.1ZM1202.8,240.0 L1209.9,233.6 L1209.9,250.3 L1202.8,256.7ZM1209.9,233.6 L1216.9,227.4 L1216.9,244.1 L1209.9,250.3ZM1216.9,227.4 L1224.0,221.2 L1224.0,237.9 L1216.9,244.1ZM1224.0,221.2 L1231.0,215.1 L1231.0,231.8 L1224.0,237.9ZM1231.0,215.1 L1238.1,209.2 L1238.1,225.9 L1231.0,231.8ZM1238.1,209.2 L1245.1,203.3 L1245.1,220.0 L1238.1,225.9ZM1245.1,203.3 L1252.2,197.6 L1252.2,214.3 L1245.1,220.0ZM1252.2,197.6 L1259.2,192.0 L1259.2,208.7 L1252.2,214.3ZM1259.2,192.0 L1266.3,186.4 L1266.3,203.1 L1259.2,208.7ZM1266.3,186.4 L1273.3,181.0 L1273.3,197.7 L1266.3,203.1ZM1273.3,181.0 L1280.4,175.7 L1280.4,192.4 L1273.3,197.7ZM1280.4,175.7 L1287.4,170.5 L1287.4,187.2 L1280.4,192.4ZM1287.4,170.5 L1294.5,165.4 L1294.5,182.1 L1287.4,187.2ZM1294.5,165.4 L1301.5,160.4 L1301.5,177.1 L1294.5,182.1ZM1301.5,160.4 L1308.6,155.5 L1308.6,172.2 L1301.5,177.1ZM1308.6,155.5 L1315.6,150.8 L1315.6,167.5 L1308.6,172.2ZM1315.6,150.8 L1322.6,146.2 L1322.6,162.9 L1315.6,167.5ZM1322.6,146.2 L1329.7,141.6 L1329.7,158.3 L1322.6,162.9ZM1329.7,141.6 L1336.7,137.2 L1336.7,153.9 L1329.7,158.3ZM1336.7,137.2 L1343.8,132.9 L1343.8,149.6 L1336.7,153.9ZM1343.8,132.9 L1350.8,128.7 L1350.8,145.4 L1343.8,149.6ZM1350.8,128.7 L1357.9,124.7 L1357.9,141.4 L1350.8,145.4ZM1357.9,124.7 L1364.9,120.7 L1364.9,137.4 L1357.9,141.4ZM1364.9,120.7 L1372.0,116.9 L1372.0,133.6 L1364.9,137.4ZM1372.0,116.9 L1379.0,113.2 L1379.0,129.9 L1372.0,133.6ZM1379.0,113.2 L1386.1,109.5 L1386.1,126.2 L1379.0,129.9ZM1386.1,109.5 L1393.1,106.0 L1393.1,122.7 L1386.1,126.2ZM1393.1,106.0 L1400.2,102.7 L1400.2,119.4 L1393.1,122.7ZM1400.2,102.7 L1407.2,99.4 L1407.2,116.1 L1400.2,119.4ZM1407.2,99.4 L1414.3,96.2 L1414.3,112.9 L1407.2,116.1ZM1414.3,96.2 L1421.3,93.2 L1421.3,109.9 L1414.3,112.9ZM1421.3,93.2 L1428.4,90.2 L1428.4,106.9 L1421.3,109.9ZM1428.4,90.2 L1435.4,87.4 L1435.4,104.1 L1428.4,106.9ZM1435.4,87.4 L1442.5,84.6 L1442.5,101.3 L1435.4,104.1ZM1442.5,84.6 L1449.5,82.0 L1449.5,98.7 L1442.5,101.3ZM1449.5,82.0 L1456.6,79.4 L1456.6,96.1 L1449.5,98.7ZM1456.6,79.4 L1463.6,77.0 L1463.6,93.7 L1456.6,96.1ZM1463.6,77.0 L1470.7,74.7 L1470.7,91.4 L1463.6,93.7ZM1470.7,74.7 L1477.7,72.4 L1477.7,89.1 L1470.7,91.4ZM1477.7,72.4 L1484.8,70.3 L1484.8,87.0 L1477.7,89.1ZM1484.8,70.3 L1491.8,68.2 L1491.8,84.9 L1484.8,87.0ZM1491.8,68.2 L1498.8,66.3 L1498.8,83.0 L1491.8,84.9ZM1498.8,66.3 L1505.9,64.4 L1505.9,81.1 L1498.8,83.0ZM1505.9,64.4 L1512.9,62.6 L1512.9,79.3 L1505.9,81.1ZM1512.9,62.6 L1520.0,60.9 L1520.0,77.6 L1512.9,79.3ZM1520.0,60.9 L1527.0,59.3 L1527.0,76.0 L1520.0,77.6ZM1527.0,59.3 L1534.1,57.8 L1534.1,74.5 L1527.0,76.0ZM1534.1,57.8 L1541.1,56.3 L1541.1,73.0 L1534.1,74.5ZM1541.1,56.3 L1548.2,54.9 L1548.2,71.6 L1541.1,73.0ZM1548.2,54.9 L1555.2,53.6 L1555.2,70.3 L1548.2,71.6ZM1555.2,53.6 L1562.3,52.4 L1562.3,69.1 L1555.2,70.3ZM1562.3,52.4 L1569.3,51.2 L1569.3,67.9 L1562.3,69.1ZM1569.3,51.2 L1576.4,50.1 L1576.4,66.8 L1569.3,67.9ZM1576.4,50.1 L1583.4,49.0 L1583.4,65.7 L1576.4,66.8ZM1583.4,49.0 L1590.5,48.1 L1590.5,64.8 L1583.4,65.7ZM1590.5,48.1 L1597.5,47.1 L1597.5,63.8 L1590.5,64.8ZM1597.5,47.1 L1604.6,46.3 L1604.6,63.0 L1597.5,63.8ZM1604.6,46.3 L1611.6,45.5 L1611.6,62.2 L1604.6,63.0ZM1611.6,45.5 L1618.7,44.7 L1618.7,61.4 L1611.6,62.2ZM1618.7,44.7 L1625.7,44.0 L1625.7,60.7 L1618.7,61.4ZM1625.7,44.0 L1632.8,43.3 L1632.8,60.0 L1625.7,60.7ZM1632.8,43.3 L1639.8,42.7 L1639.8,59.4 L1632.8,60.0ZM1639.8,42.7 L1646.9,42.1 L1646.9,58.8 L1639.8,59.4ZM1646.9,42.1 L1653.9,41.6 L1653.9,58.3 L1646.9,58.8ZM1653.9,41.6 L1661.0,41.1 L1661.0,57.8 L1653.9,58.3ZM1661.0,41.1 L1668.0,40.6 L1668.0,57.3 L1661.0,57.8ZM1668.0,40.6 L1675.0,40.2 L1675.0,56.9 L1668.0,57.3ZM1675.0,40.2 L1682.1,39.8 L1682.1,56.5 L1675.0,56.9ZM1682.1,39.8 L1689.1,39.4 L1689.1,56.1 L1682.1,56.5ZM1689.1,39.4 L1696.2,39.1 L1696.2,55.8 L1689.1,56.1ZM1696.2,39.1 L1703.2,38.8 L1703.2,55.5 L1696.2,55.8ZM1703.2,38.8 L1710.3,38.5 L1710.3,55.2 L1703.2,55.5ZM1710.3,38.5 L1717.3,38.2 L1717.3,54.9 L1710.3,55.2ZM1717.3,38.2 L1724.4,38.0 L1724.4,54.7 L1717.3,54.9ZM1724.4,38.0 L1731.4,37.8 L1731.4,54.5 L1724.4,54.7ZM1731.4,37.8 L1738.5,37.6 L1738.5,54.3 L1731.4,54.5ZM1738.5,37.6 L1745.5,37.4 L1745.5,54.1 L1738.5,54.3ZM1745.5,37.4 L1752.6,37.2 L1752.6,53.9 L1745.5,54.1ZM1752.6,37.2 L1759.6,37.1 L1759.6,53.8 L1752.6,53.9ZM1759.6,37.1 L1766.7,36.9 L1766.7,53.6 L1759.6,53.8ZM1766.7,36.9 L1773.7,36.8 L1773.7,53.5 L1766.7,53.6ZM1773.7,36.8 L1780.8,36.7 L1780.8,53.4 L1773.7,53.5ZM1780.8,36.7 L1787.8,36.6 L1787.8,53.3 L1780.8,53.4ZM1787.8,36.6 L1794.9,36.5 L1794.9,53.2 L1787.8,53.3ZM1794.9,36.5 L1801.9,36.4 L1801.9,53.1 L1794.9,53.2ZM1801.9,36.4 L1809.0,36.4 L1809.0,53.1 L1801.9,53.1ZM1809.0,36.4 L1816.0,36.3 L1816.0,53.0 L1809.0,53.1ZM1816.0,36.3 L1823.1,36.2 L1823.1,52.9 L1816.0,53.0ZM1823.1,36.2 L1830.1,36.2 L1830.1,52.9 L1823.1,52.9ZM1830.1,36.2 L1837.2,36.2 L1837.2,52.9 L1830.1,52.9ZM1837.2,36.2 L1844.2,36.1 L1844.2,52.8 L1837.2,52.9ZM1844.2,36.1 L1851.2,36.1 L1851.2,52.8 L1844.2,52.8ZM1851.2,36.1 L1858.3,36.0 L1858.3,52.7 L1851.2,52.8ZM1858.3,36.0 L1865.3,36.0 L1865.3,52.7 L1858.3,52.7ZM1865.3,36.0 L1872.4,36.0 L1872.4,52.7 L1865.3,52.7ZM1872.4,36.0 L1879.4,36.0 L1879.4,52.7 L1872.4,52.7ZM1879.4,36.0 L1886.5,36.0 L1886.5,52.7 L1879.4,52.7ZM1886.5,36.0 L1893.5,35.9 L1893.5,52.6 L1886.5,52.7Z" fill="#0000ff"/>
<path d="M264.6,1383.0 L272.5,1382.3 L272.5,1399.0 L266.3,1399.7ZM272.5,1382.3 L279.5,1379.8 L279.5,1396.5 L272.5,1399.0ZM279.5,1379.8 L286.6,1375.1 L286.6,1391.8 L279.5,1396.5ZM278.2,1383.5 L285.3,1376.4 L302.0,1376.4 L294.9,1383.5ZM286.6,1375.1 L294.9,1383.5 L286.6,1391.8 L278.2,1383.5ZM285.3,1376.4 L292.3,1367.0 L309.0,1367.0 L302.0,1376.4ZM292.3,1367.0 L299.4,1355.6 L316.1,1355.6 L309.0,1367.0ZM299.4,1355.6 L306.4,1342.3 L323.1,1342.3 L316.1,1355.6ZM306.4,1342.3 L313.5,1327.5 L330.2,1327.5 L323.1,1342.3ZM313.5,1327.5 L320.5,1311.4 L337.2,1311.4 L330.2,1327.5ZM320.5,1311.4 L327.6,1294.2 L344.3,1294.2 L337.2,1311.4ZM327.6,1294.2 L334.6,1276.2 L351.3,1276.2 L344.3,1294.2ZM334.6,1276.2 L341.7,1257.5 L358.4,1257.5 L351.3,1276.2ZM341.7,1257.5 L348.7,1238.3 L365.4,1238.3 L358.4,1257.5ZM348.7,1238.3 L355.8,1218.7 L372.5,1218.7 L365.4,1238.3ZM355.8,1218.7 L362.8,1198.9 L379.5,1198.9 L372.5,1218.7ZM362.8,1198.9 L369.9,1179.0 L386.6,1179.0 L379.5,1198.9ZM369.9,1179.0 L376.9,1158.9 L393.6,1158.9 L386.6,1179.0ZM376.9,1158.9 L384.0,1138.9 L400.7,1138.9 L393.6,1158.9ZM384.0,1138.9 L391.0,1119.0 L407.7,1119.0 L400.7,1138.9ZM391.0,1119.0 L398.1,1099.1 L414.8,1099.1 L407.7,1119.0ZM398.1,1099.1 L405.1,1079.5 L421.8,1079.5 L414.8,1099.1ZM405.1,1079.5 L412.2,1060.1 L428.9,1060.1 L421.8,1079.5ZM412.2,1060.1 L419.2,1040.8 L435.9,1040.8 L428.9,1060.1ZM419.2,1040.8 L426.2,1021.9 L442.9,1021.9 L435.9,1040.8ZM426.2,1021.9 L433.3,1003.2 L450.0,1003.2 L442.9,1021.9ZM433.3,1003.2 L440.3,984.8 L457.0,984.8 L450.0,1003.2ZM440.3,984.8 L447.4,966.8 L464.1,966.8 L457.0,984.8ZM447.4,966.8 L454.4,949.0 L471.1,949.0 L464.1,966.8ZM454.4,949.0 L461.5,931.6 L478.2,931.6 L471.1,949.0ZM461.5,931.6 L468.5,914.5 L485.2,914.5 L478.2,931.6ZM468.5,914.5 L475.6,897.7 L492.3,897.7 L485.2,914.5ZM475.6,897.7 L482.6,881.3 L499.3,881.3 L492.3,897.7ZM482.6,881.3 L489.7,865.2 L506.4,865.2 L499.3,881.3ZM489.7,865.2 L496.7,849.4 L513.4,849.4 L506.4,865.2ZM496.7,849.4 L503.8,834.0 L520.5,834.0 L513.4,849.4ZM503.8,834.0 L510.8,818.9 L527.5,818.9 L520.5,834.0ZM510.8,818.9 L517.9,804.1 L534.6,804.1 L527.5,818.9ZM517.9,804.1 L524.9,789.6 L541.6,789.6 L534.6,804.1ZM524.9,789.6 L532.0,775.5 L548.7,775.5 L541.6,789.6ZM532.0,775.5 L539.0,761.6 L555.7,761.6 L548.7,775.5ZM539.0,761.6 L546.1,748.1 L562.8,748.1 L555.7,761.6ZM546.1,748.1 L553.1,734.9 L569.8,734.9 L562.8,748.1ZM553.1,734.9 L560.2,721.9 L576.9,721.9 L569.8,734.9ZM560.2,721.9 L567.2,709.3 L583.9,709.3 L576.9,721.9ZM567.2,709.3 L574.3,696.9 L591.0,696.9 L583.9,709.3ZM574.3,696.9 L581.3,684.8 L598.0,684.8 L591.0,696.9ZM581.3,684.8 L588.4,673.0 L605.1,673.0 L598.0,684.8ZM588.4,673.0 L595.4,661.4 L612.1,661.4 L605.1,673.0ZM595.4,661.4 L602.4,650.1 L619.1,650.1 L612.1,661.4ZM602.4,650.1 L609.5,639.1 L626.2,639.1 L619.1,650.1ZM609.5,639.1 L616.5,628.3 L633.2,628.3 L626.2,639.1ZM616.5,628.3 L623.6,617.7 L640.3,617.7 L633.2,628.3ZM623.6,617.7 L630.6,607.4 L647.3,607.4 L640.3,617.7ZM630.6,607.4 L637.7,597.3 L654.4,597.3 L647.3,607.4ZM637.7,597.3 L644.7,587.4 L661.4,587.4 L654.4,597.3ZM644.7,587.4 L651.8,577.8 L668.5,577.8 L661.4,587.4ZM651.8,577.8 L658.8,568.3 L675.5,568.3 L668.5,577.8ZM658.8,568.3 L665.9,559.1 L682.6,559.1 L675.5,568.3ZM665.9,559.1 L672.9,550.1 L689.6,550.1 L682.6,559.1ZM672.9,550.1 L680.0,541.3 L696.7,541.3 L689.6,550.1ZM680.0,541.3 L687.0,532.6 L703.7,532.6 L696.7,541.3ZM687.0,532.6 L694.1,524.2 L710.8,524.2 L703.7,532.6ZM694.1,524.2 L701.1,515.9 L717.8,515.9 L710.8,524.2ZM701.1,515.9 L708.2,507.9 L724.9,507.9 L717.8,515.9ZM708.2,507.9 L715.2,499.9 L731.9,499.9 L724.9,507.9ZM715.2,499.9 L722.3,492.2 L739.0,492.2 L731.9,499.9ZM722.3,492.2 L729.3,484.6 L746.0,484.6 L739.0,492.2ZM729.3,484.6 L736.4,477.2 L753.1,477.2 L746.0,484.6ZM736.4,477.2 L743.4,470.0 L760.1,470.0 L753.1,477.2ZM743.4,470.0 L750.5,462.9 L767.2,462.9 L760.1,470.0ZM758.8,454.5 L765.9,447.6 L765.9,464.3 L758.8,471.2ZM758.8,454.5 L767.2,462.9 L758.8,471.2 L750.5,462.9ZM765.9,447.6 L772.9,440.8 L772.9,457.5 L765.9,464.3ZM772.9,440.8 L780.0,434.1 L780.0,450.8 L772.9,457.5ZM780.0,434.1 L787.0,427.6 L787.0,444.3 L780.0,450.8ZM787.0,427.6 L794.0,421.2 L794.0,437.9 L787.0,444.3ZM794.0,421.2 L801.1,415.0 L801.1,431.7 L794.0,437.9ZM801.1,415.0 L808.1,408.9 L808.1,425.6 L801.1,431.7ZM808.1,408.9 L815.2,402.9 L815.2,419.6 L808.1,425.6ZM815.2,402.9 L822.2,397.0 L822.2,413.7 L815.2,419.6ZM822.2,397.0 L829.3,391.2 L829.3,407.9 L822.2,413.7ZM829.3,391.2 L836.3,385.6 L836.3,402.3 L829.3,407.9ZM836.3,385.6 L843.4,380.1 L843.4,396.8 L836.3,402.3ZM843.4,380.1 L850.4,374.7 L850.4,391.4 L843.4,396.8ZM850.4,374.7 L857.5,369.4 L857.5,386.1 L850.4,391.4ZM857.5,369.4 L864.5,364.2 L864.5,380.9 L857.5,386.1ZM864.5,364.2 L871.6,359.1 L871.6,375.8 L864.5,380.9ZM871.6,359.1 L878.6,354.1 L878.6,370.8 L871.6,375.8ZM878.6,354.1 L885.7,349.2 L885.7,365.9 L878.6,370.8ZM885.7,349.2 L892.7,344.4 L892.7,361.1 L885.7,365.9ZM892.7,344.4 L899.8,339.7 L899.8,356.4 L892.7,361.1ZM899.8,339.7 L906.8,335.1 L906.8,351.8 L899.8,356.4ZM906.8,335.1 L913.9,330.5 L913.9,347.2 L906.8,351.8ZM913.9,330.5 L920.9,326.1 L920.9,342.8 L913.9,347.2ZM920.9,326.1 L928.0,321.8 L928.0,338.5 L920.9,342.8ZM928.0,321.8 L935.0,317.5 L935.0,334.2 L928.0,338.5ZM935.0,317.5 L942.1,313.3 L942.1,330.0 L935.0,334.2ZM942.1,313.3 L949.1,309.2 L949.1,325.9 L942.1,330.0ZM949.1,309.2 L956.2,305.2 L956.2,321.9 L949.1,325.9ZM956.2,305.2 L963.2,301.2 L963.2,317.9 L956.2,321.9ZM963.2,301.2 L970.2,297.3 L970.2,314.0 L963.2,317.9ZM970.2,297.3 L977.3,293.5 L977.3,310.2 L970.2,314.0ZM977.3,293.5 L984.3,289.8 L984.3,306.5 L977.3,310.2ZM984.3,289.8 L991.4,286.1 L991.4,302.8 L984.3,306.5ZM991.4,286.1 L998.4,282.5 L998.4,299.2 L991.4,302.8ZM998.4,282.5 L1005.5,279.0 L1005.5,295.7 L998.4,299.2ZM1005.5,279.0 L1012.5,275.5 L1012.5,292.2 L1005.5,295.7ZM1012.5,275.5 L1019.6,272.1 L1019.6,288.8 L1012.5,292.2ZM1019.6,272.1 L1026.6,268.8 L1026.6,285.5 L1019.6,288.8ZM1026.6,268.8 L1033.7,265.5 L1033.7,282.2 L1026.6,285.5ZM1033.7,265.5 L1040.7,262.3 L1040.7,279.0 L1033.7,282.2ZM1040.7,262.3 L1047.8,259.1 L1047.8,275.8 L1040.7,279.0ZM1047.8,259.1 L1054.8,256.0 L1054.8,272.7 L1047.8,275.8ZM1054.8,256.0 L1061.9,253.0 L1061.9,269.7 L1054.8,272.7ZM1061.9,253.0 L1068.9,250.0 L1068.9,266.7 L1061.9,269.7ZM1068.9,250.0 L1076.0,247.0 L1076.0,263.7 L1068.9,266.7ZM1076.0,247.0 L1083.0,244.1 L1083.0,260.8 L1076.0,263.7ZM1083.0,244.1 L1090.1,241.3 L1090.1,258.0 L1083.0,260.8ZM1090.1,241.3 L1097.1,238.5 L1097.1,255.2 L1090.1,258.0ZM1097.1,238.5 L1104.2,235.7 L1104.2,252.4 L1097.1,255.2ZM1104.2,235.7 L1111.2,233.0 L1111.2,249.7 L1104.2,252.4ZM1111.2,233.0 L1118.3,230.4 L1118.3,247.1 L1111.2,249.7ZM1118.3,230.4 L1125.3,227.8 L1125.3,244.5 L1118.3,247.1ZM1125.3,227.8 L1132.4,225.2 L1132.4,241.9 L1125.3,244.5ZM1132.4,225.2 L1139.4,222.7 L1139.4,239.4 L1132.4,241.9ZM1139.4,222.7 L1146.4,220.2 L1146.4,236.9 L1139.4,239.4ZM1146.4,220.2 L1153.5,217.8 L1153.5,234.5 L1146.4,236.9ZM1153.5,217.8 L1160.5,215.4 L1160.5,232.1 L1153.5,234.5ZM1160.5,215.4 L1167.6,213.0 L1167.6,229.7 L1160.5,232.1ZM1167.6,213.0 L1174.6,210.7 L1174.6,227.4 L1167.6,229.7ZM1174.6,210.7 L1181.7,208.4 L1181.7,225.1 L1174.6,227.4ZM1181.7,208.4 L1188.7,206.2 L1188.7,222.9 L1181.7,225.1ZM1188.7,206.2 L1195.8,204.0 L1195.8,220.7 L1188.7,222.9ZM1195.8,204.0 L1202.8,201.8 L1202.8,218.5 L1195.8,220.7ZM1202.8,201.8 L1209.9,199.7 L1209.9,216.4 L1202.8,218.5ZM1209.9,199.7 L1216.9,197.6 L1216.9,214.3 L1209.9,216.4ZM1216.9,197.6 L1224.0,195.6 L1224.0,212.3 L1216.9,214.3ZM1224.0,195.6 L1231.0,193.5 L1231.0,210.2 L1224.0,212.3ZM1231.0,193.5 L1238.1,191.5 L1238.1,208.2 L1231.0,210.2ZM1238.1,191.5 L1245.1,189.6 L1245.1,206.3 L1238.1,208.2ZM1245.1,189.6 L1252.2,187.6 L1252.2,204.3 L1245.1,206.3ZM1252.2,187.6 L1259.2,185.7 L1259.2,202.4 L1252.2,204.3ZM1259.2,185.7 L1266.3,183.9 L1266.3,200.6 L1259.2,202.4ZM1266.3,183.9 L1273.3,182.0 L1273.3,198.7 L1266.3,200.6ZM1273.3,182.0 L1280.4,180.2 L1280.4,196.9 L1273.3,198.7ZM1280.4,180.2 L1287.4,178.4 L1287.4,195.1 L1280.4,196.9ZM1287.4,178.4 L1294.5,176.7 L1294.5,193.4 L1287.4,195.1ZM1294.5,176.7 L1301.5,175.0 L1301.5,191.7 L1294.5,193.4ZM1301.5,175.0 L1308.6,173.3 L1308.6,190.0 L1301.5,191.7ZM1308.6,173.3 L1315.6,171.6 L1315.6,188.3 L1308.6,190.0ZM1315.6,171.6 L1322.6,169.9 L1322.6,186.6 L1315.6,188.3ZM1322.6,169.9 L1329.7,168.3 L1329.7,185.0 L1322.6,186.6ZM1329.7,168.3 L1336.7,166.7 L1336.7,183.4 L1329.7,185.0ZM1336.7,166.7 L1343.8,165.1 L1343.8,181.8 L1336.7,183.4ZM1343.8,165.1 L1350.8,163.6 L1350.8,180.3 L1343.8,181.8ZM1350.8,163.6 L1357.9,162.1 L1357.9,178.8 L1350.8,180.3ZM1357.9,162.1 L1364.9,160.6 L1364.9,177.3 L1357.9,178.8ZM1364.9,160.6 L1372.0,159.1 L1372.0,175.8 L1364.9,177.3ZM1372.0,159.1 L1379.0,157.6 L1379.0,174.3 L1372.0,175.8ZM1379.0,157.6 L1386.1,156.2 L1386.1,172.9 L1379.0,174.3ZM1386.1,156.2 L1393.1,154.8 L1393.1,171.5 L1386.1,172.9ZM1393.1,154.8 L1400.2,153.4 L1400.2,170.1 L1393.1,171.5ZM1400.2,153.4 L1407.2,152.0 L1407.2,168.7 L1400.2,170.1ZM1407.2,152.0 L1414.3,150.7 L1414.3,167.4 L1407.2,168.7ZM1414.3,150.7 L1421.3,149.3 L1421.3,166.0 L1414.3,167.4ZM1421.3,149.3 L1428.4,148.0 L1428.4,164.7 L1421.3,166.0ZM1428.4,148.0 L1435.4,146.7 L1435.4,163.4 L1428.4,164.7ZM1435.4,146.7 L1442.5,145.5 L1442.5,162.2 L1435.4,163.4ZM1442.5,145.5 L1449.5,144.2 L1449.5,160.9 L1442.5,162.2ZM1449.5,144.2 L1456.6,143.0 L1456.6,159.7 L1449.5,160.9ZM1456.6,143.0 L1463.6,141.7 L1463.6,158.4 L1456.6,159.7ZM1463.6,141.7 L1470.7,140.5 L1470.7,157.2 L1463.6,158.4ZM1470.7,140.5 L1477.7,139.4 L1477.7,156.1 L1470.7,157.2ZM1477.7,139.4 L1484.8,138.2 L1484.8,154.9 L1477.7,156.1ZM1484.8,138.2 L1491.8,137.0 L1491.8,153.7 L1484.8,154.9ZM1491.8,137.0 L1498.8,135.9 L1498.8,152.6 L1491.8,153.7ZM1498.8,135.9 L1505.9,134.8 L1505.9,151.5 L1498.8,152.6ZM1505.9,134.8 L1512.9,133.7 L1512.9,150.4 L1505.9,151.5ZM1512.9,133.7 L1520.0,132.6 L1520.0,149.3 L1512.9,150.4ZM1520.0,132.6 L1527.0,131.5 L1527.0,148.2 L1520.0,149.3ZM1527.0,131.5 L1534.1,130.5 L1534.1,147.2 L1527.0,148.2ZM1534.1,130.5 L1541.1,129.4 L1541.1,146.1 L1534.1,147.2ZM1541.1,129.4 L1548.2,128.4 L1548.2,145.1 L1541.1,146.1ZM1548.2,128.4 L1555.2,127.4 L1555.2,144.1 L1548.2,145.1ZM1555.2,127.4 L1562.3,126.4 L1562.3,143.1 L1555.2,144.1ZM1562.3,126.4 L1569.3,125.4 L1569.3,142.1 L1562.3,143.1ZM1569.3,125.4 L1576.4,124.4 L1576.4,141.1 L1569.3,142.1ZM1576.4,124.4 L1583.4,123.5 L1583.4,140.2 L1576.4,141.1ZM1583.4,123.5 L1590.5,122.5 L1590.5,139.2 L1583.4,140.2ZM1590.5,122.5 L1597.5,121.6 L1597.5,138.3 L1590.5,139.2ZM1597.5,121.6 L1604.6,120.7 L1604.6,137.4 L1597.5,138.3ZM1604.6,120.7 L1611.6,119.8 L1611.6,136.5 L1604.6,137.4ZM1611.6,119.8 L1618.7,118.9 L1618.7,135.6 L1611.6,136.5ZM1618.7,118.9 L1625.7,118.0 L1625.7,134.7 L1618.7,135.6ZM1625.7,118.0 L1632.8,117.1 L1632.8,133.8 L1625.7,134.7ZM1632.8,117.1 L1639.8,116.2 L1639.8,132.9 L1632.8,133.8ZM1639.8,116.2 L1646.9,115.4 L1646.9,132.1 L1639.8,132.9ZM1646.9,115.4 L1653.9,114.6 L1653.9,131.3 L1646.9,132.1ZM1653.9,114.6 L1661.0,113.7 L1661.0,130.4 L1653.9,131.3ZM1661.0,113.7 L1668.0,112.9 L1668.0,129.6 L1661.0,130.4ZM1668.0,112.9 L1675.0,112.1 L1675.0,128.8 L1668.0,129.6ZM1675.0,112.1 L1682.1,111.3 L1682.1,128.0 L1675.0,128.8ZM1682.1,111.3 L1689.1,110.5 L1689.1,127.2 L1682.1,128.0ZM1689.1,110.5 L1696.2,109.8 L1696.2,126.5 L1689.1,127.2ZM1696.2,109.8 L1703.2,109.0 L1703.2,125.7 L1696.2,126.5ZM1703.2,109.0 L1710.3,108.3 L1710.3,125.0 L1703.2,125.7ZM1710.3,108.3 L1717.3,107.5 L1717.3,124.2 L1710.3,125.0ZM1717.3,107.5 L1724.4,106.8 L1724.4,123.5 L1717.3,124.2ZM1724.4,106.8 L1731.4,106.0 L1731.4,122.7 L1724.4,123.5ZM1731.4,106.0 L1738.5,105.3 L1738.5,122.0 L1731.4,122.7ZM1738.5,105.3 L1745.5,104.6 L1745.5,121.3 L1738.5,122.0ZM1745.5,104.6 L1752.6,103.9 L1752.6,120.6 L1745.5,121.3ZM1752.6,103.9 L1759.6,103.2 L1759.6,119.9 L1752.6,120.6ZM1759.6,103.2 L1766.7,102.6 L1766.7,119.3 L1759.6,119.9ZM1766.7,102.6 L1773.7,101.9 L1773.7,118.6 L1766.7,119.3ZM1773.7,101.9 L1780.8,101.2 L1780.8,117.9 L1773.7,118.6ZM1780.8,101.2 L1787.8,100.6 L1787.8,117.3 L1780.8,117.9ZM1787.8,100.6 L1794.9,99.9 L1794.9,116.6 L1787.8,117.3ZM1794.9,99.9 L1801.9,99.3 L1801.9,116.0 L1794.9,116.6ZM1801.9,99.3 L1809.0,98.7 L1809.0,115.4 L1801.9,116.0ZM1809.0,98.7 L1816.0,98.0 L1816.0,114.7 L1809.0,115.4ZM1816.0,98.0 L1823.1,97.4 L1823.1,114.1 L1816.0,114.7ZM1823.1,97.4 L1830.1,96.8 L1830.1,113.5 L1823.1,114.1ZM1830.1,96.8 L1837.2,96.2 L1837.2,112.9 L1830.1,113.5ZM1837.2,96.2 L1844.2,95.6 L1844.2,112.3 L1837.2,112.9ZM1844.2,95.6 L1851.2,95.0 L1851.2,111.7 L1844.2,112.3ZM1851.2,95.0 L1858.3,94.5 L1858.3,111.2 L1851.2,111.7ZM1858.3,94.5 L1865.3,93.9 L1865.3,110.6 L1858.3,111.2ZM1865.3,93.9 L1872.4,93.3 L1872.4,110.0 L1865.3,110.6ZM1872.4,93.3 L1879.4,92.8 L1879.4,109.5 L1872.4,110.0ZM1879.4,92.8 L1886.5,92.2 L1886.5,108.9 L1879.4,109.5ZM1886.5,92.2 L1893.5,91.7 L1893.5,108.4 L1886.5,108.9Z" fill="#000000"/>
<path d="M257.1,1378.0 L264.1,1374.3 L280.8,1374.3 L273.8,1390.0ZM264.1,1374.3 L271.2,1363.4 L287.9,1363.4 L280.8,1374.3ZM271.2,1363.4 L278.2,1351.7 L294.9,1351.7 L287.9,1363.4ZM278.2,1351.7 L285.3,1339.5 L302.0,1339.5 L294.9,1351.7ZM285.3,1339.5 L292.3,1326.9 L309.0,1326.9 L302.0,1339.5ZM292.3,1326.9 L299.4,1313.9 L316.1,1313.9 L309.0,1326.9ZM299.4,1313.9 L306.4,1300.7 L323.1,1300.7 L316.1,1313.9ZM306.4,1300.7 L313.5,1287.2 L330.2,1287.2 L323.1,1300.7ZM313.5,1287.2 L320.5,1273.5 L337.2,1273.5 L330.2,1287.2ZM320.5,1273.5 L327.6,1259.7 L344.3,1259.7 L337.2,1273.5ZM327.6,1259.7 L334.6,1245.7 L351.3,1245.7 L344.3,1259.7ZM334.6,1245.7 L341.7,1231.7 L358.4,1231.7 L351.3,1245.7ZM341.7,1231.7 L348.7,1217.6 L365.4,1217.6 L358.4,1231.7ZM348.7,1217.6 L355.8,1203.4 L372.5,1203.4 L365.4,1217.6ZM355.8,1203.4 L362.8,1189.2 L379.5,1189.2 L372.5,1203.4ZM362.8,1189.2 L369.9,1174.9 L386.6,1174.9 L379.5,1189.2ZM369.9,1174.9 L376.9,1160.7 L393.6,1160.7 L386.6,1174.9ZM376.9,1160.7 L384.0,1146.5 L400.7,1146.5 L393.6,1160.7ZM384.0,1146.5 L391.0,1132.3 L407.7,1132.3 L400.7,1146.5ZM391.0,1132.3 L398.1,1118.1 L414.8,1118.1 L407.7,1132.3ZM398.1,1118.1 L405.1,1103.9 L421.8,1103.9 L414.8,1118.1ZM405.1,1103.9 L412.2,1089.8 L428.9,1089.8 L421.8,1103.9ZM412.2,1089.8 L419.2,1075.8 L435.9,1075.8 L428.9,1089.8ZM419.2,1075.8 L426.2,1061.8 L442.9,1061.8 L435.9,1075.8ZM426.2,1061.8 L433.3,1047.9 L450.0,1047.9 L442.9,1061.8ZM433.3,1047.9 L440.3,1034.0 L457.0,1034.0 L450.0,1047.9ZM440.3,1034.0 L447.4,1020.2 L464.1,1020.2 L457.0,1034.0ZM447.4,1020.2 L454.4,1006.5 L471.1,1006.5 L464.1,1020.2ZM454.4,1006.5 L461.5,992.9 L478.2,992.9 L471.1,1006.5ZM461.5,992.9 L468.5,979.4 L485.2,979.4 L478.2,992.9ZM468.5,979.4 L475.6,966.0 L492.3,966.0 L485.2,979.4ZM475.6,966.0 L482.6,952.7 L499.3,952.7 L492.3,966.0ZM482.6,952.7 L489.7,939.5 L506.4,939.5 L499.3,952.7ZM489.7,939.5 L496.7,926.4 L513.4,926.4 L506.4,939.5ZM496.7,926.4 L503.8,913.4 L520.5,913.4 L513.4,926.4ZM503.8,913.4 L510.8,900.6 L527.5,900.6 L520.5,913.4ZM510.8,900.6 L517.9,887.8 L534.6,887.8 L527.5,900.6ZM517.9,887.8 L524.9,875.2 L541.6,875.2 L534.6,887.8ZM524.9,875.2 L532.0,862.7 L548.7,862.7 L541.6,875.2ZM532.0,862.7 L539.0,850.2 L555.7,850.2 L548.7,862.7ZM539.0,850.2 L546.1,838.0 L562.8,838.0 L555.7,850.2ZM546.1,838.0 L553.1,825.8 L569.8,825.8 L562.8,838.0ZM553.1,825.8 L560.2,813.8 L576.9,813.8 L569.8,825.8ZM560.2,813.8 L567.2,801.9 L583.9,801.9 L576.9,813.8ZM567.2,801.9 L574.3,790.1 L591.0,790.1 L583.9,801.9ZM574.3,790.1 L581.3,778.4 L598.0,778.4 L591.0,790.1ZM581.3,778.4 L588.4,766.9 L605.1,766.9 L598.0,778.4ZM588.4,766.9 L595.4,755.5 L612.1,755.5 L605.1,766.9ZM595.4,755.5 L602.4,744.3 L619.1,744.3 L612.1,755.5ZM602.4,744.3 L609.5,733.1 L626.2,733.1 L619.1,744.3ZM609.5,733.1 L616.5,722.1 L633.2,722.1 L626.2,733.1ZM616.5,722.1 L623.6,711.2 L640.3,711.2 L633.2,722.1ZM623.6,711.2 L630.6,700.5 L647.3,700.5 L640.3,711.2ZM630.6,700.5 L637.7,689.9 L654.4,689.9 L647.3,700.5ZM637.7,689.9 L644.7,679.4 L661.4,679.4 L654.4,689.9ZM644.7,679.4 L651.8,669.0 L668.5,669.0 L661.4,679.4ZM651.8,669.0 L658.8,658.8 L675.5,658.8 L668.5,669.0ZM658.8,658.8 L665.9,648.7 L682.6,648.7 L675.5,658.8ZM665.9,648.7 L672.9,638.7 L689.6,638.7 L682.6,648.7ZM672.9,638.7 L680.0,628.9 L696.7,628.9 L689.6,638.7ZM680.0,628.9 L687.0,619.2 L703.7,619.2 L696.7,628.9ZM687.0,619.2 L694.1,609.6 L710.8,609.6 L703.7,619.2ZM694.1,609.6 L701.1,600.1 L717.8,600.1 L710.8,609.6ZM701.1,600.1 L708.2,590.8 L724.9,590.8 L717.8,600.1ZM708.2,590.8 L715.2,581.6 L731.9,581.6 L724.9,590.8ZM715.2,581.6 L722.3,572.5 L739.0,572.5 L731.9,581.6ZM722.3,572.5 L729.3,563.6 L746.0,563.6 L739.0,572.5ZM729.3,563.6 L736.4,554.7 L753.1,554.7 L746.0,563.6ZM736.4,554.7 L743.4,546.0 L760.1,546.0 L753.1,554.7ZM743.4,546.0 L750.5,537.4 L767.2,537.4 L760.1,546.0ZM750.5,537.4 L757.5,528.9 L774.2,528.9 L767.2,537.4ZM757.5,528.9 L764.6,520.6 L781.3,520.6 L774.2,528.9ZM764.6,520.6 L771.6,512.4 L788.3,512.4 L781.3,520.6ZM771.6,512.4 L778.6,504.2 L795.4,504.2 L788.3,512.4ZM778.6,504.2 L785.7,496.3 L802.4,496.3 L795.4,504.2ZM785.7,496.3 L792.7,488.4 L809.4,488.4 L802.4,496.3ZM792.7,488.4 L799.8,480.6 L816.5,480.6 L809.4,488.4ZM799.8,480.6 L806.8,473.0 L823.5,473.0 L816.5,480.6ZM806.8,473.0 L813.9,465.4 L830.6,465.4 L823.5,473.0ZM813.9,465.4 L820.9,458.0 L837.6,458.0 L830.6,465.4ZM820.9,458.0 L828.0,450.7 L844.7,450.7 L837.6,458.0ZM828.0,450.7 L835.0,443.5 L851.7,443.5 L844.7,450.7ZM835.0,443.5 L842.1,436.4 L858.8,436.4 L851.7,443.5ZM850.4,428.0 L857.5,421.0 L857.5,437.7 L850.4,444.7ZM850.4,428.0 L858.8,436.4 L850.4,444.7 L842.1,436.4ZM857.5,421.0 L864.5,414.2 L864.5,430.9 L857.5,437.7ZM864.5,414.2 L871.6,407.4 L871.6,424.1 L864.5,430.9ZM871.6,407.4 L878.6,400.7 L878.6,417.4 L871.6,424.1ZM878.6,400.7 L885.7,394.1 L885.7,410.8 L878.6,417.4ZM885.7,394.1 L892.7,387.7 L892.7,404.4 L885.7,410.8ZM892.7,387.7 L899.8,381.3 L899.8,398.0 L892.7,404.4ZM899.8,381.3 L906.8,375.1 L906.8,391.8 L899.8,398.0ZM906.8,375.1 L913.9,368.9 L913.9,385.6 L906.8,391.8ZM913.9,368.9 L920.9,362.8 L920.9,379.5 L913.9,385.6ZM920.9,362.8 L928.0,356.9 L928.0,373.6 L920.9,379.5ZM928.0,356.9 L935.0,351.0 L935.0,367.7 L928.0,373.6ZM935.0,351.0 L942.1,345.2 L942.1,361.9 L935.0,367.7ZM942.1,345.2 L949.1,339.5 L949.1,356.2 L942.1,361.9ZM949.1,339.5 L956.2,333.9 L956.2,350.6 L949.1,356.2ZM956.2,333.9 L963.2,328.4 L963.2,345.1 L956.2,350.6ZM963.2,328.4 L970.2,323.0 L970.2,339.7 L963.2,345.1ZM970.2,323.0 L977.3,317.7 L977.3,334.4 L970.2,339.7ZM977.3,317.7 L984.3,312.4 L984.3,329.1 L977.3,334.4ZM984.3,312.4 L991.4,307.3 L991.4,324.0 L984.3,329.1ZM991.4,307.3 L998.4,302.2 L998.4,318.9 L991.4,324.0ZM998.4,302.2 L1005.5,297.2 L1005.5,313.9 L998.4,318.9ZM1005.5,297.2 L1012.5,292.3 L1012.5,309.0 L1005.5,313.9ZM1012.5,292.3 L1019.6,287.5 L1019.6,304.2 L1012.5,309.0ZM1019.6,287.5 L1026.6,282.8 L1026.6,299.5 L1019.6,304.2ZM1026.6,282.8 L1033.7,278.1 L1033.7,294.8 L1026.6,299.5ZM1033.7,278.1 L1040.7,273.5 L1040.7,290.2 L1033.7,294.8ZM1040.7,273.5 L1047.8,269.0 L1047.8,285.7 L1040.7,290.2ZM1047.8,269.0 L1054.8,264.6 L1054.8,281.3 L1047.8,285.7ZM1054.8,264.6 L1061.9,260.3 L1061.9,277.0 L1054.8,281.3ZM1061.9,260.3 L1068.9,256.0 L1068.9,272.7 L1061.9,277.0ZM1068.9,256.0 L1076.0,251.8 L1076.0,268.5 L1068.9,272.7ZM1076.0,251.8 L1083.0,247.7 L1083.0,264.4 L1076.0,268.5ZM1083.0,247.7 L1090.1,243.6 L1090.1,260.3 L1083.0,264.4ZM1090.1,243.6 L1097.1,239.6 L1097.1,256.3 L1090.1,260.3ZM1097.1,239.6 L1104.2,235.7 L1104.2,252.4 L1097.1,256.3ZM1104.2,235.7 L1111.2,231.8 L1111.2,248.5 L1104.2,252.4ZM1111.2,231.8 L1118.3,228.1 L1118.3,244.8 L1111.2,248.5ZM1118.3,228.1 L1125.3,224.3 L1125.3,241.0 L1118.3,244.8ZM1125.3,224.3 L1132.4,220.7 L1132.4,237.4 L1125.3,241.0ZM1132.4,220.7 L1139.4,217.1 L1139.4,233.8 L1132.4,237.4ZM1139.4,217.1 L1146.4,213.6 L1146.4,230.3 L1139.4,233.8ZM1146.4,213.6 L1153.5,210.1 L1153.5,226.8 L1146.4,230.3ZM1153.5,210.1 L1160.5,206.7 L1160.5,223.4 L1153.5,226.8ZM1160.5,206.7 L1167.6,203.4 L1167.6,220.1 L1160.5,223.4ZM1167.6,203.4 L1174.6,200.1 L1174.6,216.8 L1167.6,220.1ZM1174.6,200.1 L1181.7,196.9 L1181.7,213.6 L1174.6,216.8ZM1181.7,196.9 L1188.7,193.7 L1188.7,210.4 L1181.7,213.6ZM1188.7,193.7 L1195.8,190.6 L1195.8,207.3 L1188.7,210.4ZM1195.8,190.6 L1202.8,187.6 L1202.8,204.3 L1195.8,207.3ZM1202.8,187.6 L1209.9,184.6 L1209.9,201.3 L1202.8,204.3ZM1209.9,184.6 L1216.9,181.6 L1216.9,198.3 L1209.9,201.3ZM1216.9,181.6 L1224.0,178.7 L1224.0,195.4 L1216.9,198.3ZM1224.0,178.7 L1231.0,175.9 L1231.0,192.6 L1224.0,195.4ZM1231.0,175.9 L1238.1,173.1 L1238.1,189.8 L1231.0,192.6ZM1238.1,173.1 L1245.1,170.4 L1245.1,187.1 L1238.1,189.8ZM1245.1,170.4 L1252.2,167.7 L1252.2,184.4 L1245.1,187.1ZM1252.2,167.7 L1259.2,165.1 L1259.2,181.8 L1252.2,184.4ZM1259.2,165.1 L1266.3,162.5 L1266.3,179.2 L1259.2,181.8ZM1266.3,162.5 L1273.3,160.0 L1273.3,176.7 L1266.3,179.2ZM1273.3,160.0 L1280.4,157.5 L1280.4,174.2 L1273.3,176.7ZM1280.4,157.5 L1287.4,155.0 L1287.4,171.7 L1280.4,174.2ZM1287.4,155.0 L1294.5,152.6 L1294.5,169.3 L1287.4,171.7ZM1294.5,152.6 L1301.5,150.3 L1301.5,167.0 L1294.5,169.3ZM1301.5,150.3 L1308.6,148.0 L1308.6,164.7 L1301.5,167.0ZM1308.6,148.0 L1315.6,145.7 L1315.6,162.4 L1308.6,164.7ZM1315.6,145.7 L1322.6,143.5 L1322.6,160.2 L1315.6,162.4ZM1322.6,143.5 L1329.7,141.3 L1329.7,158.0 L1322.6,160.2ZM1329.7,141.3 L1336.7,139.2 L1336.7,155.9 L1329.7,158.0ZM1336.7,139.2 L1343.8,137.1 L1343.8,153.8 L1336.7,155.9ZM1343.8,137.1 L1350.8,135.0 L1350.8,151.7 L1343.8,153.8ZM1350.8,135.0 L1357.9,133.0 L1357.9,149.7 L1350.8,151.7ZM1357.9,133.0 L1364.9,131.0 L1364.9,147.7 L1357.9,149.7ZM1364.9,131.0 L1372.0,129.1 L1372.0,145.8 L1364.9,147.7ZM1372.0,129.1 L1379.0,127.2 L1379.0,143.9 L1372.0,145.8ZM1379.0,127.2 L1386.1,125.3 L1386.1,142.0 L1379.0,143.9ZM1386.1,125.3 L1393.1,123.5 L1393.1,140.2 L1386.1,142.0ZM1393.1,123.5 L1400.2,121.7 L1400.2,138.4 L1393.1,140.2ZM1400.2,121.7 L1407.2,119.9 L1407.2,136.6 L1400.2,138.4ZM1407.2,119.9 L1414.3,118.2 L1414.3,134.9 L1407.2,136.6ZM1414.3,118.2 L1421.3,116.5 L1421.3,133.2 L1414.3,134.9ZM1421.3,116.5 L1428.4,114.8 L1428.4,131.5 L1421.3,133.2ZM1428.4,114.8 L1435.4,113.2 L1435.4,129.9 L1428.4,131.5ZM1435.4,113.2 L1442.5,111.6 L1442.5,128.3 L1435.4,129.9ZM1442.5,111.6 L1449.5,110.0 L1449.5,126.7 L1442.5,128.3ZM1449.5,110.0 L1456.6,108.4 L1456.6,125.1 L1449.5,126.7ZM1456.6,108.4 L1463.6,106.9 L1463.6,123.6 L1456.6,125.1ZM1463.6,106.9 L1470.7,105.5 L1470.7,122.2 L1463.6,123.6ZM1470.7,105.5 L1477.7,104.0 L1477.7,120.7 L1470.7,122.2ZM1477.7,104.0 L1484.8,102.6 L1484.8,119.3 L1477.7,120.7ZM1484.8,102.6 L1491.8,101.2 L1491.8,117.9 L1484.8,119.3ZM1491.8,101.2 L1498.8,99.8 L1498.8,116.5 L1491.8,117.9ZM1498.8,99.8 L1505.9,98.5 L1505.9,115.2 L1498.8,116.5ZM1505.9,98.5 L1512.9,97.2 L1512.9,113.9 L1505.9,115.2ZM1512.9,97.2 L1520.0,95.9 L1520.0,112.6 L1512.9,113.9ZM1520.0,95.9 L1527.0,94.6 L1527.0,111.3 L1520.0,112.6ZM1527.0,94.6 L1534.1,93.4 L1534.1,110.1 L1527.0,111.3ZM1534.1,93.4 L1541.1,92.2 L1541.1,108.9 L1534.1,110.1ZM1541.1,92.2 L1548.2,91.0 L1548.2,107.7 L1541.1,108.9ZM1548.2,91.0 L1555.2,89.8 L1555.2,106.5 L1548.2,107.7ZM1555.2,89.8 L1562.3,88.7 L1562.3,105.4 L1555.2,106.5ZM1562.3,88.7 L1569.3,87.6 L1569.3,104.3 L1562.3,105.4ZM1569.3,87.6 L1576.4,86.5 L1576.4,103.2 L1569.3,104.3ZM1576.4,86.5 L1583.4,85.4 L1583.4,102.1 L1576.4,103.2ZM1583.4,85.4 L1590.5,84.3 L1590.5,101.0 L1583.4,102.1ZM1590.5,84.3 L1597.5,83.3 L1597.5,100.0 L1590.5,101.0ZM1597.5,83.3 L1604.6,82.3 L1604.6,99.0 L1597.5,100.0ZM1604.6,82.3 L1611.6,81.3 L1611.6,98.0 L1604.6,99.0ZM1611.6,81.3 L1618.7,80.3 L1618.7,97.0 L1611.6,98.0ZM1618.7,80.3 L1625.7,79.4 L1625.7,96.1 L1618.7,97.0ZM1625.7,79.4 L1632.8,78.4 L1632.8,95.1 L1625.7,96.1ZM1632.8,78.4 L1639.8,77.5 L1639.8,94.2 L1632.8,95.1ZM1639.8,77.5 L1646.9,76.6 L1646.9,93.3 L1639.8,94.2ZM1646.9,76.6 L1653.9,75.8 L1653.9,92.5 L1646.9,93.3ZM1653.9,75.8 L1661.0,74.9 L1661.0,91.6 L1653.9,92.5ZM1661.0,74.9 L1668.0,74.1 L1668.0,90.8 L1661.0,91.6ZM1668.0,74.1 L1675.0,73.2 L1675.0,89.9 L1668.0,90.8ZM1675.0,73.2 L1682.1,72.4 L1682.1,89.1 L1675.0,89.9ZM1682.1,72.4 L1689.1,71.6 L1689.1,88.3 L1682.1,89.1ZM1689.1,71.6 L1696.2,70.9 L1696.2,87.6 L1689.1,88.3ZM1696.2,70.9 L1703.2,70.1 L1703.2,86.8 L1696.2,87.6ZM1703.2,70.1 L1710.3,69.4 L1710.3,86.1 L1703.2,86.8ZM1710.3,69.4 L1717.3,68.6 L1717.3,85.3 L1710.3,86.1ZM1717.3,68.6 L1724.4,67.9 L1724.4,84.6 L1717.3,85.3ZM1724.4,67.9 L1731.4,67.2 L1731.4,83.9 L1724.4,84.6ZM1731.4,67.2 L1738.5,66.6 L1738.5,83.3 L1731.4,83.9ZM1738.5,66.6 L1745.5,65.9 L1745.5,82.6 L1738.5,83.3ZM1745.5,65.9 L1752.6,65.2 L1752.6,81.9 L1745.5,82.6ZM1752.6,65.2 L1759.6,64.6 L1759.6,81.3 L1752.6,81.9ZM1759.6,64.6 L1766.7,64.0 L1766.7,80.7 L1759.6,81.3ZM1766.7,64.0 L1773.7,63.3 L1773.7,80.0 L1766.7,80.7ZM1773.7,63.3 L1780.8,62.7 L1780.8,79.4 L1773.7,80.0ZM1780.8,62.7 L1787.8,62.2 L1787.8,78.9 L1780.8,79.4ZM1787.8,62.2 L1794.9,61.6 L1794.9,78.3 L1787.8,78.9ZM1794.9,61.6 L1801.9,61.0 L1801.9,77.7 L1794.9,78.3ZM1801.9,61.0 L1809.0,60.5 L1809.0,77.2 L1801.9,77.7ZM1809.0,60.5 L1816.0,59.9 L1816.0,76.6 L1809.0,77.2ZM1816.0,59.9 L1823.1,59.4 L1823.1,76.1 L1816.0,76.6ZM1823.1,59.4 L1830.1,58.9 L1830.1,75.6 L1823.1,76.1ZM1830.1,58.9 L1837.2,58.4 L1837.2,75.1 L1830.1,75.6ZM1837.2,58.4 L1844.2,57.9 L1844.2,74.6 L1837.2,75.1ZM1844.2,57.9 L1851.2,57.4 L1851.2,74.1 L1844.2,74.6ZM1851.2,57.4 L1858.3,56.9 L1858.3,73.6 L1851.2,74.1ZM1858.3,56.9 L1865.3,56.4 L1865.3,73.1 L1858.3,73.6ZM1865.3,56.4 L1872.4,56.0 L1872.4,72.7 L1865.3,73.1ZM1872.4,56.0 L1879.4,55.5 L1879.4,72.2 L1872.4,72.7ZM1879.4,55.5 L1886.5,55.1 L1886.5,71.8 L1879.4,72.2ZM1886.5,55.1 L1893.5,54.7 L1893.5,71.4 L1886.5,71.8Z" fill="#ff00ff"/>
</g>
<rect x="1423.7" y="915.6" width="165.9" height="16.8" fill="#00ff00"/>
<rect x="1423.7" y="1003.6" width="165.9" height="16.8" fill="#ff0000"/>
<rect x="1423.7" y="1093.6" width="165.9" height="16.8" fill="#0000ff"/>
<rect x="1423.7" y="1183.4" width="165.9" height="16.8" fill="#000000"/>
<rect x="1423.7" y="1273.6" width="165.9" height="16.8" fill="#ff00ff"/>
</g>
<g filter="url(#b2)">
<g font-family="Liberation Sans, Arial, Helvetica, sans-serif" fill="#262626" stroke="#ffffff" stroke-width="1.00">
<text transform="translate(185.63,73.60) scale(1,1.045)" font-size="75.1"><tspan dx="2.85">1</tspan></text>
<rect x="192.70" y="66.74" width="15.16" height="7.86" fill="#ffffff"/>
<rect x="213.51" y="66.74" width="14.58" height="7.86" fill="#ffffff"/>
<text transform="translate(123.00,344.25) scale(1,1.045)" font-size="75.1">0.8</text>
<text transform="translate(123.00,613.15) scale(1,1.045)" font-size="75.1">0.6</text>
<text transform="translate(123.00,884.20) scale(1,1.045)" font-size="75.1">0.4</text>
<text transform="translate(123.00,1152.00) scale(1,1.045)" font-size="75.1">0.2</text>
<text transform="translate(185.63,1421.25) scale(1,1.045)" font-size="75.1">0</text>
<text transform="translate(234.87,1494.65) scale(1,1.045)" font-size="75.1">0</text>
<text transform="translate(567.58,1494.65) scale(1,1.045)" font-size="75.1">50</text>
<text transform="translate(897.90,1494.65) scale(1,1.045)" font-size="75.1"><tspan dx="2.85">1</tspan><tspan dx="-2.85">00</tspan></text>
<rect x="904.97" y="1487.79" width="15.16" height="7.86" fill="#ffffff"/>
<rect x="925.77" y="1487.79" width="14.58" height="7.86" fill="#ffffff"/>
<text transform="translate(1251.40,1494.65) scale(1,1.045)" font-size="75.1"><tspan dx="2.85">1</tspan><tspan dx="-2.85">50</tspan></text>
<rect x="1258.47" y="1487.79" width="15.16" height="7.86" fill="#ffffff"/>
<rect x="1279.27" y="1487.79" width="14.58" height="7.86" fill="#ffffff"/>
<text transform="translate(1602.50,1494.65) scale(1,1.045)" font-size="75.1">200</text>
<text transform="translate(1956.30,1494.65) scale(1,1.045)" font-size="75.1">250</text>
</g>
<g font-family="Liberation Sans, Arial, Helvetica, sans-serif" fill="#262626">
<text transform="translate(1139.4,1603.2) scale(1,1.040)" font-size="83.5" text-anchor="middle">VTEC (TECU)</text>
<text transform="translate(87.0,1027.73) rotate(-90) scale(1,1.000)" font-size="83.4">Cumulative distr.</text>
</g>
<g font-family="Liberation Sans, Arial, Helvetica, sans-serif" fill="#000000" stroke="#ffffff" stroke-width="0.50" font-size="67.8">
<text transform="translate(1599.2,950.40) scale(1,0.985)">normal</text>
<text transform="translate(1599.2,1040.50) scale(1,0.985)">exponential</text>
<text transform="translate(1599.2,1130.40) scale(1,0.985)">extreme</text>
<text transform="translate(1599.2,1220.50) scale(1,0.985)">lognormal</text>
<text transform="translate(1599.2,1310.50) scale(1,0.985)">weibull</text>
</g>
</g>
</svg>
</body>
</html>
